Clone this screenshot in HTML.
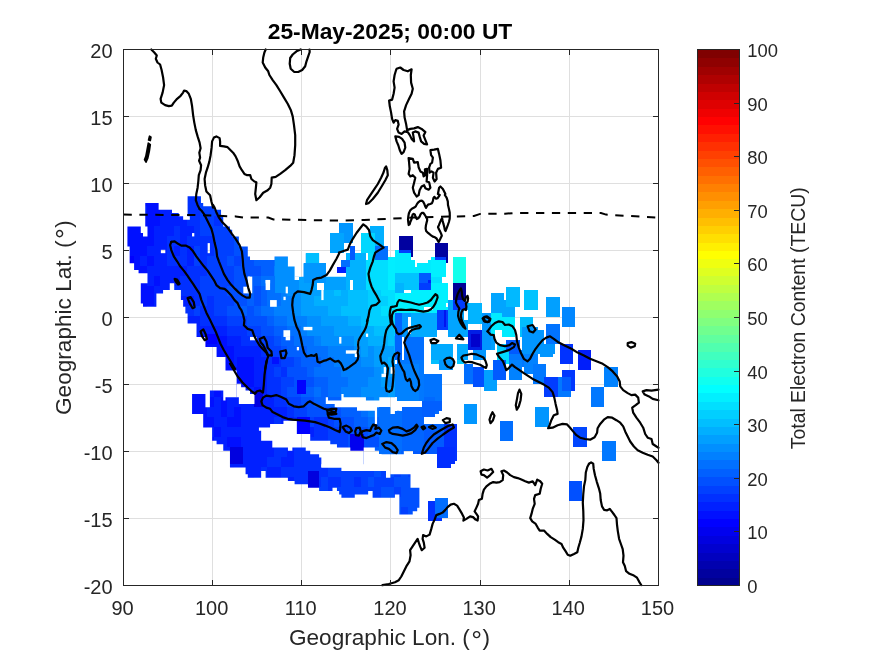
<!DOCTYPE html>
<html><head><meta charset="utf-8"><title>TEC map</title>
<style>
html,body{margin:0;padding:0;background:#fff;}
body{width:875px;height:656px;overflow:hidden;}
svg{display:block;font-family:"Liberation Sans",sans-serif;will-change:transform;opacity:0.999;}
.tk{font-size:20px;fill:#262626;}
.ck{font-size:18.4px;fill:#262626;}
.al{font-size:22.6px;fill:#262626;}
.tt{font-size:22.8px;font-weight:bold;fill:#000;}
.cl{font-size:19.4px;fill:#262626;}
</style></head><body>
<svg width="875" height="656" viewBox="0 0 875 656">
<rect x="0" y="0" width="875" height="656" fill="#fff"/>

<g stroke="#dfdfdf" stroke-width="1" shape-rendering="crispEdges">
<line x1="212.5" y1="49.5" x2="212.5" y2="585.5"/>
<line x1="301.5" y1="49.5" x2="301.5" y2="585.5"/>
<line x1="390.5" y1="49.5" x2="390.5" y2="585.5"/>
<line x1="480.5" y1="49.5" x2="480.5" y2="585.5"/>
<line x1="569.5" y1="49.5" x2="569.5" y2="585.5"/>
<line x1="123.5" y1="518.5" x2="658.5" y2="518.5"/>
<line x1="123.5" y1="451.5" x2="658.5" y2="451.5"/>
<line x1="123.5" y1="384.5" x2="658.5" y2="384.5"/>
<line x1="123.5" y1="317.5" x2="658.5" y2="317.5"/>
<line x1="123.5" y1="250.5" x2="658.5" y2="250.5"/>
<line x1="123.5" y1="183.5" x2="658.5" y2="183.5"/>
<line x1="123.5" y1="116.5" x2="658.5" y2="116.5"/>
</g>
<defs><mask id="m" maskUnits="userSpaceOnUse" x="0" y="0" width="875" height="656">
<rect x="0" y="0" width="875" height="656" fill="#000"/>
<path fill="#fff" fill-rule="nonzero" d="M127.42 226.38 L140.79 226.38 L140.79 233.08 L143.02 233.08 L143.02 236.43 L147.48 236.43 L147.48 226.38 L145.25 226.38 L145.25 202.93 L158.62 202.93 L158.62 209.63 L172.00 209.63 L172.00 212.98 L178.69 212.98 L178.69 216.33 L183.14 216.33 L183.14 219.68 L189.83 219.68 L189.83 216.33 L187.60 216.33 L187.60 196.23 L200.97 196.23 L200.97 202.93 L203.20 202.93 L203.20 206.28 L214.35 206.28 L214.35 209.63 L221.04 209.63 L221.04 216.33 L223.26 216.33 L223.26 226.38 L229.95 226.38 L229.95 229.73 L232.18 229.73 L232.18 236.43 L238.87 236.43 L238.87 246.48 L247.78 246.48 L247.78 283.33 L147.48 283.33 L147.48 273.28 L138.56 273.28 L138.56 269.93 L134.10 269.93 L134.10 263.23 L129.65 263.23 L129.65 246.48 L127.42 246.48Z M147.48 273.28 L247.78 273.28 L247.78 370.43 L225.49 370.43 L225.49 357.03 L216.58 357.03 L216.58 346.98 L205.43 346.98 L205.43 336.93 L196.52 336.93 L196.52 323.53 L187.60 323.53 L187.60 313.48 L185.37 313.48 L185.37 306.78 L183.14 306.78 L183.14 300.08 L180.91 300.08 L180.91 290.03 L174.23 290.03 L174.23 283.33 L169.77 283.33 L169.77 290.03 L163.08 290.03 L163.08 293.38 L156.39 293.38 L156.39 306.78 L143.02 306.78 L143.02 303.43 L140.79 303.43 L140.79 283.33 L147.48 283.33Z M232.18 236.43 L238.87 236.43 L238.87 246.48 L247.78 246.48 L247.78 256.53 L250.01 256.53 L250.01 259.88 L274.53 259.88 L274.53 256.53 L287.91 256.53 L287.91 266.58 L294.59 266.58 L294.59 279.98 L301.28 279.98 L301.28 276.63 L303.51 276.63 L303.51 263.23 L305.74 263.23 L305.74 253.18 L319.11 253.18 L319.11 263.23 L325.80 263.23 L325.80 276.63 L332.49 276.63 L332.49 300.08 L232.18 300.08Z M236.64 276.63 L363.69 276.63 L363.69 370.43 L236.64 370.43Z M299.05 283.33 L399.36 283.33 L399.36 360.38 L299.05 360.38Z M225.49 367.08 L247.78 367.08 L247.78 390.53 L245.56 390.53 L245.56 387.18 L241.10 387.18 L241.10 383.83 L236.64 383.83 L236.64 370.43 L225.49 370.43Z M192.06 393.88 L205.43 393.88 L205.43 407.28 L209.89 407.28 L209.89 390.53 L223.26 390.53 L223.26 400.58 L225.49 400.58 L225.49 397.23 L238.87 397.23 L238.87 403.93 L247.78 403.93 L247.78 467.58 L229.95 467.58 L229.95 450.83 L223.26 450.83 L223.26 444.13 L216.58 444.13 L216.58 440.78 L212.12 440.78 L212.12 427.38 L203.20 427.38 L203.20 413.98 L192.06 413.98Z M236.64 370.43 L363.69 370.43 L363.69 464.23 L236.64 464.23Z M299.05 360.38 L399.36 360.38 L399.36 434.08 L299.05 434.08Z M212.12 437.43 L287.91 437.43 L287.91 477.63 L265.62 477.63 L265.62 470.93 L261.16 470.93 L261.16 477.63 L247.78 477.63 L247.78 474.28 L245.56 474.28 L245.56 467.58 L236.64 467.58 L236.64 464.23 L229.95 464.23 L229.95 450.83 L223.26 450.83 L223.26 444.13 L216.58 444.13 L216.58 440.78 L212.12 440.78Z M276.76 447.48 L287.91 447.48 L287.91 450.83 L292.36 450.83 L292.36 447.48 L305.74 447.48 L305.74 450.83 L310.20 450.83 L310.20 454.18 L319.11 454.18 L319.11 457.53 L321.34 457.53 L321.34 467.58 L341.40 467.58 L341.40 470.93 L385.98 470.93 L385.98 477.63 L390.44 477.63 L390.44 474.28 L403.81 474.28 L403.81 514.48 L399.36 514.48 L399.36 494.38 L394.90 494.38 L394.90 497.73 L372.61 497.73 L372.61 491.03 L368.15 491.03 L368.15 494.38 L354.78 494.38 L354.78 497.73 L341.40 497.73 L341.40 494.38 L339.17 494.38 L339.17 491.03 L336.94 491.03 L336.94 487.68 L332.49 487.68 L332.49 491.03 L319.11 491.03 L319.11 487.68 L307.97 487.68 L307.97 484.33 L294.59 484.33 L294.59 480.98 L287.91 480.98 L287.91 477.63 L276.76 477.63Z M350.32 434.08 L403.81 434.08 L403.81 454.18 L381.52 454.18 L381.52 450.83 L374.84 450.83 L374.84 447.48 L363.69 447.48 L363.69 450.83 L350.32 450.83Z M390.44 474.28 L410.50 474.28 L410.50 487.68 L419.42 487.68 L419.42 507.78 L417.19 507.78 L417.19 511.13 L412.73 511.13 L412.73 514.48 L399.36 514.48 L399.36 494.38 L394.90 494.38 L394.90 497.73 L390.44 497.73Z"/>
<path fill="#000" d="M236.64 383.83 L241.10 383.83 L241.10 387.18 L245.56 387.18 L245.56 390.53 L250.01 390.53 L250.01 393.88 L254.47 393.88 L254.47 403.93 L238.87 403.93 L238.87 397.23 L236.64 397.23Z"/>
<path fill="#000" d="M258.93 427.38 L270.07 427.38 L270.07 424.03 L283.45 424.03 L283.45 420.68 L296.82 420.68 L296.82 434.08 L310.20 434.08 L310.20 440.78 L330.26 440.78 L330.26 444.13 L336.94 444.13 L336.94 447.48 L350.32 447.48 L350.32 450.83 L363.69 450.83 L363.69 467.58 L321.34 467.58 L321.34 457.53 L319.11 457.53 L319.11 454.18 L310.20 454.18 L310.20 450.83 L305.74 450.83 L305.74 447.48 L292.36 447.48 L292.36 450.83 L287.91 450.83 L287.91 447.48 L272.30 447.48 L272.30 440.78 L261.16 440.78 L261.16 430.73 L258.93 430.73Z"/>
<path fill="#000" d="M325.80 397.23 L328.03 397.23 L328.03 400.58 L341.40 400.58 L341.40 393.88 L343.63 393.88 L343.63 397.23 L365.92 397.23 L365.92 400.58 L379.30 400.58 L379.30 397.23 L397.13 397.23 L397.13 400.58 L401.58 400.58 L401.58 410.63 L394.90 410.63 L394.90 413.98 L390.44 413.98 L390.44 407.28 L377.07 407.28 L377.07 424.03 L374.84 424.03 L374.84 410.63 L357.00 410.63 L357.00 407.28 L334.71 407.28 L334.71 403.93 L325.80 403.93Z"/>
<rect fill="#000" x="192.06" y="233.08" width="2.23" height="3.35"/>
<rect fill="#000" x="160.85" y="249.83" width="4.46" height="3.35"/>
<rect fill="#000" x="207.66" y="243.13" width="2.23" height="10.05"/>
<rect fill="#000" x="247.78" y="276.63" width="2.23" height="3.35"/>
<rect fill="#000" x="265.62" y="279.98" width="4.46" height="3.35"/>
<rect fill="#000" x="243.33" y="286.68" width="4.46" height="6.70"/>
<rect fill="#000" x="247.78" y="276.63" width="4.46" height="16.75"/>
<rect fill="#000" x="265.62" y="279.98" width="4.46" height="10.05"/>
<rect fill="#000" x="294.59" y="276.63" width="6.69" height="3.35"/>
<rect fill="#000" x="285.68" y="286.68" width="2.23" height="6.70"/>
<rect fill="#000" x="283.45" y="296.73" width="2.23" height="3.35"/>
<rect fill="#000" x="270.07" y="300.08" width="6.69" height="6.70"/>
<rect fill="#000" x="316.88" y="283.33" width="6.69" height="6.70"/>
<rect fill="#000" x="321.34" y="290.03" width="2.23" height="10.05"/>
<rect fill="#000" x="350.32" y="279.98" width="2.23" height="6.70"/>
<rect fill="#000" x="325.80" y="276.63" width="11.15" height="0.00"/>
<rect fill="#000" x="303.51" y="326.88" width="8.92" height="3.35"/>
<rect fill="#000" x="283.45" y="330.23" width="6.69" height="6.70"/>
<rect fill="#000" x="285.68" y="336.93" width="4.46" height="3.35"/>
<rect fill="#000" x="339.17" y="336.93" width="2.23" height="6.70"/>
<rect fill="#000" x="296.82" y="346.98" width="2.23" height="3.35"/>
<rect fill="#000" x="345.86" y="350.33" width="11.14" height="3.35"/>
<rect fill="#000" x="354.78" y="353.68" width="2.23" height="3.35"/>
<rect fill="#000" x="250.01" y="336.93" width="6.69" height="3.35"/>
<rect fill="#000" x="357.00" y="340.28" width="2.23" height="10.05"/>
<rect fill="#000" x="365.92" y="333.58" width="2.23" height="3.35"/>
<rect fill="#000" x="397.13" y="353.68" width="2.23" height="6.70"/>
<rect fill="#000" x="381.52" y="373.78" width="4.46" height="3.35"/>
<rect fill="#000" x="383.75" y="367.08" width="2.23" height="6.70"/>
<rect fill="#000" x="390.44" y="367.08" width="4.46" height="6.70"/>
<rect fill="#000" x="394.90" y="360.38" width="4.46" height="13.40"/>
</mask></defs>
<g mask="url(#m)" shape-rendering="crispEdges">
<rect x="126.92" y="195.73" width="34.44" height="11.05" fill="rgb(0,16,255)"/>
<rect x="160.35" y="195.73" width="14.37" height="11.05" fill="rgb(0,32,255)"/>
<rect x="173.73" y="195.73" width="27.75" height="11.05" fill="rgb(0,48,255)"/>
<rect x="200.47" y="195.73" width="7.69" height="11.05" fill="rgb(0,64,255)"/>
<rect x="207.16" y="195.73" width="14.37" height="11.05" fill="rgb(0,48,255)"/>
<rect x="220.54" y="195.73" width="14.37" height="11.05" fill="rgb(0,64,255)"/>
<rect x="233.91" y="195.73" width="14.37" height="11.05" fill="rgb(0,80,255)"/>
<rect x="247.28" y="195.73" width="7.69" height="11.05" fill="rgb(0,96,255)"/>
<rect x="253.97" y="195.73" width="7.69" height="11.05" fill="rgb(0,80,255)"/>
<rect x="260.66" y="195.73" width="7.69" height="11.05" fill="rgb(0,96,255)"/>
<rect x="267.35" y="195.73" width="21.06" height="11.05" fill="rgb(0,112,255)"/>
<rect x="287.41" y="195.73" width="21.06" height="11.05" fill="rgb(0,143,255)"/>
<rect x="307.47" y="195.73" width="14.37" height="11.05" fill="rgb(0,159,255)"/>
<rect x="320.84" y="195.73" width="27.75" height="11.05" fill="rgb(0,175,255)"/>
<rect x="347.59" y="195.73" width="21.06" height="11.05" fill="rgb(0,191,255)"/>
<rect x="367.65" y="195.73" width="21.06" height="11.05" fill="rgb(0,207,255)"/>
<rect x="387.71" y="195.73" width="34.44" height="11.05" fill="rgb(0,223,255)"/>
<rect x="126.92" y="205.78" width="14.37" height="11.05" fill="rgb(0,16,255)"/>
<rect x="140.29" y="205.78" width="7.69" height="11.05" fill="rgb(0,32,255)"/>
<rect x="146.98" y="205.78" width="14.37" height="11.05" fill="rgb(0,16,255)"/>
<rect x="160.35" y="205.78" width="14.37" height="11.05" fill="rgb(0,32,255)"/>
<rect x="173.73" y="205.78" width="7.69" height="11.05" fill="rgb(0,48,255)"/>
<rect x="180.41" y="205.78" width="7.69" height="11.05" fill="rgb(0,32,255)"/>
<rect x="187.10" y="205.78" width="14.37" height="11.05" fill="rgb(0,48,255)"/>
<rect x="200.47" y="205.78" width="27.75" height="11.05" fill="rgb(0,64,255)"/>
<rect x="227.22" y="205.78" width="7.69" height="11.05" fill="rgb(0,80,255)"/>
<rect x="233.91" y="205.78" width="7.69" height="11.05" fill="rgb(0,64,255)"/>
<rect x="240.60" y="205.78" width="14.37" height="11.05" fill="rgb(0,80,255)"/>
<rect x="253.97" y="205.78" width="7.69" height="11.05" fill="rgb(0,96,255)"/>
<rect x="260.66" y="205.78" width="14.37" height="11.05" fill="rgb(0,112,255)"/>
<rect x="274.03" y="205.78" width="21.06" height="11.05" fill="rgb(0,128,255)"/>
<rect x="294.09" y="205.78" width="7.69" height="11.05" fill="rgb(0,143,255)"/>
<rect x="300.78" y="205.78" width="21.06" height="11.05" fill="rgb(0,159,255)"/>
<rect x="320.84" y="205.78" width="14.37" height="11.05" fill="rgb(0,175,255)"/>
<rect x="334.21" y="205.78" width="27.75" height="11.05" fill="rgb(0,191,255)"/>
<rect x="360.96" y="205.78" width="7.69" height="11.05" fill="rgb(0,207,255)"/>
<rect x="367.65" y="205.78" width="7.69" height="11.05" fill="rgb(0,191,255)"/>
<rect x="374.34" y="205.78" width="14.37" height="11.05" fill="rgb(0,207,255)"/>
<rect x="387.71" y="205.78" width="34.44" height="11.05" fill="rgb(0,223,255)"/>
<rect x="126.92" y="215.83" width="34.44" height="11.05" fill="rgb(0,16,255)"/>
<rect x="160.35" y="215.83" width="27.75" height="11.05" fill="rgb(0,32,255)"/>
<rect x="187.10" y="215.83" width="14.37" height="11.05" fill="rgb(0,48,255)"/>
<rect x="200.47" y="215.83" width="14.37" height="11.05" fill="rgb(0,64,255)"/>
<rect x="213.85" y="215.83" width="7.69" height="11.05" fill="rgb(0,48,255)"/>
<rect x="220.54" y="215.83" width="14.37" height="11.05" fill="rgb(0,64,255)"/>
<rect x="233.91" y="215.83" width="21.06" height="11.05" fill="rgb(0,80,255)"/>
<rect x="253.97" y="215.83" width="14.37" height="11.05" fill="rgb(0,96,255)"/>
<rect x="267.35" y="215.83" width="14.37" height="11.05" fill="rgb(0,112,255)"/>
<rect x="280.72" y="215.83" width="14.37" height="11.05" fill="rgb(0,128,255)"/>
<rect x="294.09" y="215.83" width="14.37" height="11.05" fill="rgb(0,143,255)"/>
<rect x="307.47" y="215.83" width="21.06" height="11.05" fill="rgb(0,159,255)"/>
<rect x="327.53" y="215.83" width="14.37" height="11.05" fill="rgb(0,175,255)"/>
<rect x="340.90" y="215.83" width="21.06" height="11.05" fill="rgb(0,191,255)"/>
<rect x="360.96" y="215.83" width="7.69" height="11.05" fill="rgb(0,207,255)"/>
<rect x="367.65" y="215.83" width="7.69" height="11.05" fill="rgb(0,191,255)"/>
<rect x="374.34" y="215.83" width="7.69" height="11.05" fill="rgb(0,207,255)"/>
<rect x="381.02" y="215.83" width="27.75" height="11.05" fill="rgb(0,223,255)"/>
<rect x="407.77" y="215.83" width="7.69" height="11.05" fill="rgb(0,239,255)"/>
<rect x="414.46" y="215.83" width="7.69" height="11.05" fill="rgb(0,223,255)"/>
<rect x="126.92" y="225.88" width="27.75" height="11.05" fill="rgb(0,16,255)"/>
<rect x="153.67" y="225.88" width="21.06" height="11.05" fill="rgb(0,32,255)"/>
<rect x="173.73" y="225.88" width="7.69" height="11.05" fill="rgb(0,48,255)"/>
<rect x="180.41" y="225.88" width="14.37" height="11.05" fill="rgb(0,32,255)"/>
<rect x="193.79" y="225.88" width="7.69" height="11.05" fill="rgb(0,48,255)"/>
<rect x="200.47" y="225.88" width="34.44" height="11.05" fill="rgb(0,64,255)"/>
<rect x="233.91" y="225.88" width="14.37" height="11.05" fill="rgb(0,80,255)"/>
<rect x="247.28" y="225.88" width="27.75" height="11.05" fill="rgb(0,96,255)"/>
<rect x="274.03" y="225.88" width="27.75" height="11.05" fill="rgb(0,128,255)"/>
<rect x="300.78" y="225.88" width="7.69" height="11.05" fill="rgb(0,143,255)"/>
<rect x="307.47" y="225.88" width="14.37" height="11.05" fill="rgb(0,159,255)"/>
<rect x="320.84" y="225.88" width="21.06" height="11.05" fill="rgb(0,175,255)"/>
<rect x="340.90" y="225.88" width="7.69" height="11.05" fill="rgb(0,191,255)"/>
<rect x="347.59" y="225.88" width="7.69" height="11.05" fill="rgb(0,175,255)"/>
<rect x="354.28" y="225.88" width="14.37" height="11.05" fill="rgb(0,191,255)"/>
<rect x="367.65" y="225.88" width="7.69" height="11.05" fill="rgb(0,207,255)"/>
<rect x="374.34" y="225.88" width="7.69" height="11.05" fill="rgb(0,223,255)"/>
<rect x="381.02" y="225.88" width="14.37" height="11.05" fill="rgb(0,207,255)"/>
<rect x="394.40" y="225.88" width="27.75" height="11.05" fill="rgb(0,223,255)"/>
<rect x="126.92" y="235.93" width="27.75" height="11.05" fill="rgb(0,16,255)"/>
<rect x="153.67" y="235.93" width="14.37" height="11.05" fill="rgb(0,32,255)"/>
<rect x="167.04" y="235.93" width="14.37" height="11.05" fill="rgb(0,48,255)"/>
<rect x="180.41" y="235.93" width="7.69" height="11.05" fill="rgb(0,32,255)"/>
<rect x="187.10" y="235.93" width="27.75" height="11.05" fill="rgb(0,48,255)"/>
<rect x="213.85" y="235.93" width="21.06" height="11.05" fill="rgb(0,64,255)"/>
<rect x="233.91" y="235.93" width="21.06" height="11.05" fill="rgb(0,80,255)"/>
<rect x="253.97" y="235.93" width="14.37" height="11.05" fill="rgb(0,96,255)"/>
<rect x="267.35" y="235.93" width="14.37" height="11.05" fill="rgb(0,112,255)"/>
<rect x="280.72" y="235.93" width="7.69" height="11.05" fill="rgb(0,128,255)"/>
<rect x="287.41" y="235.93" width="7.69" height="11.05" fill="rgb(0,143,255)"/>
<rect x="294.09" y="235.93" width="7.69" height="11.05" fill="rgb(0,128,255)"/>
<rect x="300.78" y="235.93" width="7.69" height="11.05" fill="rgb(0,143,255)"/>
<rect x="307.47" y="235.93" width="21.06" height="11.05" fill="rgb(0,159,255)"/>
<rect x="327.53" y="235.93" width="14.37" height="11.05" fill="rgb(0,175,255)"/>
<rect x="340.90" y="235.93" width="27.75" height="11.05" fill="rgb(0,191,255)"/>
<rect x="367.65" y="235.93" width="14.37" height="11.05" fill="rgb(0,207,255)"/>
<rect x="381.02" y="235.93" width="27.75" height="11.05" fill="rgb(0,223,255)"/>
<rect x="407.77" y="235.93" width="7.69" height="11.05" fill="rgb(0,239,255)"/>
<rect x="414.46" y="235.93" width="7.69" height="11.05" fill="rgb(0,223,255)"/>
<rect x="126.92" y="245.98" width="21.06" height="11.05" fill="rgb(0,16,255)"/>
<rect x="146.98" y="245.98" width="21.06" height="11.05" fill="rgb(0,32,255)"/>
<rect x="167.04" y="245.98" width="7.69" height="11.05" fill="rgb(0,48,255)"/>
<rect x="173.73" y="245.98" width="7.69" height="11.05" fill="rgb(0,32,255)"/>
<rect x="180.41" y="245.98" width="7.69" height="11.05" fill="rgb(0,48,255)"/>
<rect x="187.10" y="245.98" width="7.69" height="11.05" fill="rgb(0,32,255)"/>
<rect x="193.79" y="245.98" width="7.69" height="11.05" fill="rgb(0,64,255)"/>
<rect x="200.47" y="245.98" width="14.37" height="11.05" fill="rgb(0,48,255)"/>
<rect x="213.85" y="245.98" width="21.06" height="11.05" fill="rgb(0,64,255)"/>
<rect x="233.91" y="245.98" width="21.06" height="11.05" fill="rgb(0,80,255)"/>
<rect x="253.97" y="245.98" width="21.06" height="11.05" fill="rgb(0,96,255)"/>
<rect x="274.03" y="245.98" width="7.69" height="11.05" fill="rgb(0,112,255)"/>
<rect x="280.72" y="245.98" width="14.37" height="11.05" fill="rgb(0,128,255)"/>
<rect x="294.09" y="245.98" width="14.37" height="11.05" fill="rgb(0,143,255)"/>
<rect x="307.47" y="245.98" width="21.06" height="11.05" fill="rgb(0,159,255)"/>
<rect x="327.53" y="245.98" width="14.37" height="11.05" fill="rgb(0,175,255)"/>
<rect x="340.90" y="245.98" width="7.69" height="11.05" fill="rgb(0,191,255)"/>
<rect x="347.59" y="245.98" width="7.69" height="11.05" fill="rgb(0,175,255)"/>
<rect x="354.28" y="245.98" width="14.37" height="11.05" fill="rgb(0,191,255)"/>
<rect x="367.65" y="245.98" width="21.06" height="11.05" fill="rgb(0,207,255)"/>
<rect x="387.71" y="245.98" width="34.44" height="11.05" fill="rgb(0,223,255)"/>
<rect x="126.92" y="256.03" width="7.69" height="11.05" fill="rgb(0,0,255)"/>
<rect x="133.60" y="256.03" width="7.69" height="11.05" fill="rgb(0,16,255)"/>
<rect x="140.29" y="256.03" width="7.69" height="11.05" fill="rgb(0,32,255)"/>
<rect x="146.98" y="256.03" width="7.69" height="11.05" fill="rgb(0,16,255)"/>
<rect x="153.67" y="256.03" width="14.37" height="11.05" fill="rgb(0,32,255)"/>
<rect x="167.04" y="256.03" width="21.06" height="11.05" fill="rgb(0,48,255)"/>
<rect x="187.10" y="256.03" width="7.69" height="11.05" fill="rgb(0,32,255)"/>
<rect x="193.79" y="256.03" width="7.69" height="11.05" fill="rgb(0,64,255)"/>
<rect x="200.47" y="256.03" width="7.69" height="11.05" fill="rgb(0,48,255)"/>
<rect x="207.16" y="256.03" width="21.06" height="11.05" fill="rgb(0,64,255)"/>
<rect x="227.22" y="256.03" width="7.69" height="11.05" fill="rgb(0,80,255)"/>
<rect x="233.91" y="256.03" width="7.69" height="11.05" fill="rgb(0,64,255)"/>
<rect x="240.60" y="256.03" width="14.37" height="11.05" fill="rgb(0,80,255)"/>
<rect x="253.97" y="256.03" width="21.06" height="11.05" fill="rgb(0,96,255)"/>
<rect x="274.03" y="256.03" width="14.37" height="11.05" fill="rgb(0,112,255)"/>
<rect x="287.41" y="256.03" width="7.69" height="11.05" fill="rgb(0,128,255)"/>
<rect x="294.09" y="256.03" width="14.37" height="11.05" fill="rgb(0,143,255)"/>
<rect x="307.47" y="256.03" width="14.37" height="11.05" fill="rgb(0,159,255)"/>
<rect x="320.84" y="256.03" width="27.75" height="11.05" fill="rgb(0,175,255)"/>
<rect x="347.59" y="256.03" width="21.06" height="11.05" fill="rgb(0,191,255)"/>
<rect x="367.65" y="256.03" width="14.37" height="11.05" fill="rgb(0,207,255)"/>
<rect x="381.02" y="256.03" width="41.12" height="11.05" fill="rgb(0,223,255)"/>
<rect x="126.92" y="266.08" width="21.06" height="11.05" fill="rgb(0,16,255)"/>
<rect x="146.98" y="266.08" width="41.12" height="11.05" fill="rgb(0,32,255)"/>
<rect x="187.10" y="266.08" width="21.06" height="11.05" fill="rgb(0,48,255)"/>
<rect x="207.16" y="266.08" width="27.75" height="11.05" fill="rgb(0,64,255)"/>
<rect x="233.91" y="266.08" width="27.75" height="11.05" fill="rgb(0,80,255)"/>
<rect x="260.66" y="266.08" width="14.37" height="11.05" fill="rgb(0,96,255)"/>
<rect x="274.03" y="266.08" width="14.37" height="11.05" fill="rgb(0,128,255)"/>
<rect x="287.41" y="266.08" width="21.06" height="11.05" fill="rgb(0,143,255)"/>
<rect x="307.47" y="266.08" width="14.37" height="11.05" fill="rgb(0,159,255)"/>
<rect x="320.84" y="266.08" width="21.06" height="11.05" fill="rgb(0,175,255)"/>
<rect x="340.90" y="266.08" width="27.75" height="11.05" fill="rgb(0,191,255)"/>
<rect x="367.65" y="266.08" width="21.06" height="11.05" fill="rgb(0,207,255)"/>
<rect x="387.71" y="266.08" width="27.75" height="11.05" fill="rgb(0,223,255)"/>
<rect x="414.46" y="266.08" width="7.69" height="11.05" fill="rgb(0,239,255)"/>
<rect x="126.92" y="276.13" width="7.69" height="11.05" fill="rgb(0,0,255)"/>
<rect x="133.60" y="276.13" width="14.37" height="11.05" fill="rgb(0,16,255)"/>
<rect x="146.98" y="276.13" width="7.69" height="11.05" fill="rgb(0,32,255)"/>
<rect x="153.67" y="276.13" width="7.69" height="11.05" fill="rgb(0,16,255)"/>
<rect x="160.35" y="276.13" width="21.06" height="11.05" fill="rgb(0,32,255)"/>
<rect x="180.41" y="276.13" width="21.06" height="11.05" fill="rgb(0,48,255)"/>
<rect x="200.47" y="276.13" width="34.44" height="11.05" fill="rgb(0,64,255)"/>
<rect x="233.91" y="276.13" width="14.37" height="11.05" fill="rgb(0,80,255)"/>
<rect x="247.28" y="276.13" width="14.37" height="11.05" fill="rgb(0,96,255)"/>
<rect x="260.66" y="276.13" width="21.06" height="11.05" fill="rgb(0,112,255)"/>
<rect x="280.72" y="276.13" width="7.69" height="11.05" fill="rgb(0,128,255)"/>
<rect x="287.41" y="276.13" width="21.06" height="11.05" fill="rgb(0,143,255)"/>
<rect x="307.47" y="276.13" width="7.69" height="11.05" fill="rgb(0,159,255)"/>
<rect x="314.15" y="276.13" width="14.37" height="11.05" fill="rgb(0,175,255)"/>
<rect x="327.53" y="276.13" width="7.69" height="11.05" fill="rgb(0,159,255)"/>
<rect x="334.21" y="276.13" width="7.69" height="11.05" fill="rgb(0,175,255)"/>
<rect x="340.90" y="276.13" width="21.06" height="11.05" fill="rgb(0,191,255)"/>
<rect x="360.96" y="276.13" width="14.37" height="11.05" fill="rgb(0,207,255)"/>
<rect x="374.34" y="276.13" width="7.69" height="11.05" fill="rgb(0,223,255)"/>
<rect x="381.02" y="276.13" width="7.69" height="11.05" fill="rgb(0,207,255)"/>
<rect x="387.71" y="276.13" width="34.44" height="11.05" fill="rgb(0,223,255)"/>
<rect x="126.92" y="286.18" width="14.37" height="11.05" fill="rgb(0,0,255)"/>
<rect x="140.29" y="286.18" width="14.37" height="11.05" fill="rgb(0,16,255)"/>
<rect x="153.67" y="286.18" width="21.06" height="11.05" fill="rgb(0,32,255)"/>
<rect x="173.73" y="286.18" width="27.75" height="11.05" fill="rgb(0,48,255)"/>
<rect x="200.47" y="286.18" width="27.75" height="11.05" fill="rgb(0,64,255)"/>
<rect x="227.22" y="286.18" width="21.06" height="11.05" fill="rgb(0,80,255)"/>
<rect x="247.28" y="286.18" width="7.69" height="11.05" fill="rgb(0,96,255)"/>
<rect x="253.97" y="286.18" width="7.69" height="11.05" fill="rgb(0,80,255)"/>
<rect x="260.66" y="286.18" width="7.69" height="11.05" fill="rgb(0,96,255)"/>
<rect x="267.35" y="286.18" width="14.37" height="11.05" fill="rgb(0,112,255)"/>
<rect x="280.72" y="286.18" width="7.69" height="11.05" fill="rgb(0,128,255)"/>
<rect x="287.41" y="286.18" width="14.37" height="11.05" fill="rgb(0,143,255)"/>
<rect x="300.78" y="286.18" width="21.06" height="11.05" fill="rgb(0,159,255)"/>
<rect x="320.84" y="286.18" width="14.37" height="11.05" fill="rgb(0,175,255)"/>
<rect x="334.21" y="286.18" width="7.69" height="11.05" fill="rgb(0,191,255)"/>
<rect x="340.90" y="286.18" width="7.69" height="11.05" fill="rgb(0,175,255)"/>
<rect x="347.59" y="286.18" width="21.06" height="11.05" fill="rgb(0,191,255)"/>
<rect x="367.65" y="286.18" width="14.37" height="11.05" fill="rgb(0,207,255)"/>
<rect x="381.02" y="286.18" width="41.12" height="11.05" fill="rgb(0,223,255)"/>
<rect x="126.92" y="296.23" width="14.37" height="11.05" fill="rgb(0,0,255)"/>
<rect x="140.29" y="296.23" width="14.37" height="11.05" fill="rgb(0,16,255)"/>
<rect x="153.67" y="296.23" width="41.12" height="11.05" fill="rgb(0,32,255)"/>
<rect x="193.79" y="296.23" width="7.69" height="11.05" fill="rgb(0,48,255)"/>
<rect x="200.47" y="296.23" width="7.69" height="11.05" fill="rgb(0,64,255)"/>
<rect x="207.16" y="296.23" width="7.69" height="11.05" fill="rgb(0,48,255)"/>
<rect x="213.85" y="296.23" width="21.06" height="11.05" fill="rgb(0,64,255)"/>
<rect x="233.91" y="296.23" width="14.37" height="11.05" fill="rgb(0,80,255)"/>
<rect x="247.28" y="296.23" width="7.69" height="11.05" fill="rgb(0,96,255)"/>
<rect x="253.97" y="296.23" width="7.69" height="11.05" fill="rgb(0,80,255)"/>
<rect x="260.66" y="296.23" width="7.69" height="11.05" fill="rgb(0,96,255)"/>
<rect x="267.35" y="296.23" width="14.37" height="11.05" fill="rgb(0,112,255)"/>
<rect x="280.72" y="296.23" width="14.37" height="11.05" fill="rgb(0,128,255)"/>
<rect x="294.09" y="296.23" width="7.69" height="11.05" fill="rgb(0,143,255)"/>
<rect x="300.78" y="296.23" width="14.37" height="11.05" fill="rgb(0,159,255)"/>
<rect x="314.15" y="296.23" width="34.44" height="11.05" fill="rgb(0,175,255)"/>
<rect x="347.59" y="296.23" width="21.06" height="11.05" fill="rgb(0,191,255)"/>
<rect x="367.65" y="296.23" width="21.06" height="11.05" fill="rgb(0,207,255)"/>
<rect x="387.71" y="296.23" width="14.37" height="11.05" fill="rgb(0,223,255)"/>
<rect x="401.08" y="296.23" width="21.06" height="11.05" fill="rgb(0,239,255)"/>
<rect x="126.92" y="306.28" width="14.37" height="11.05" fill="rgb(0,0,255)"/>
<rect x="140.29" y="306.28" width="7.69" height="11.05" fill="rgb(0,16,255)"/>
<rect x="146.98" y="306.28" width="7.69" height="11.05" fill="rgb(0,32,255)"/>
<rect x="153.67" y="306.28" width="14.37" height="11.05" fill="rgb(0,16,255)"/>
<rect x="167.04" y="306.28" width="7.69" height="11.05" fill="rgb(0,48,255)"/>
<rect x="173.73" y="306.28" width="7.69" height="11.05" fill="rgb(0,32,255)"/>
<rect x="180.41" y="306.28" width="14.37" height="11.05" fill="rgb(0,48,255)"/>
<rect x="193.79" y="306.28" width="7.69" height="11.05" fill="rgb(0,64,255)"/>
<rect x="200.47" y="306.28" width="14.37" height="11.05" fill="rgb(0,48,255)"/>
<rect x="213.85" y="306.28" width="14.37" height="11.05" fill="rgb(0,64,255)"/>
<rect x="227.22" y="306.28" width="14.37" height="11.05" fill="rgb(0,80,255)"/>
<rect x="240.60" y="306.28" width="7.69" height="11.05" fill="rgb(0,96,255)"/>
<rect x="247.28" y="306.28" width="7.69" height="11.05" fill="rgb(0,80,255)"/>
<rect x="253.97" y="306.28" width="7.69" height="11.05" fill="rgb(0,96,255)"/>
<rect x="260.66" y="306.28" width="14.37" height="11.05" fill="rgb(0,112,255)"/>
<rect x="274.03" y="306.28" width="21.06" height="11.05" fill="rgb(0,128,255)"/>
<rect x="294.09" y="306.28" width="7.69" height="11.05" fill="rgb(0,143,255)"/>
<rect x="300.78" y="306.28" width="27.75" height="11.05" fill="rgb(0,159,255)"/>
<rect x="327.53" y="306.28" width="14.37" height="11.05" fill="rgb(0,175,255)"/>
<rect x="340.90" y="306.28" width="27.75" height="11.05" fill="rgb(0,191,255)"/>
<rect x="367.65" y="306.28" width="14.37" height="11.05" fill="rgb(0,207,255)"/>
<rect x="381.02" y="306.28" width="27.75" height="11.05" fill="rgb(0,223,255)"/>
<rect x="407.77" y="306.28" width="7.69" height="11.05" fill="rgb(0,239,255)"/>
<rect x="414.46" y="306.28" width="7.69" height="11.05" fill="rgb(0,223,255)"/>
<rect x="126.92" y="316.33" width="14.37" height="11.05" fill="rgb(0,0,239)"/>
<rect x="140.29" y="316.33" width="21.06" height="11.05" fill="rgb(0,0,255)"/>
<rect x="160.35" y="316.33" width="21.06" height="11.05" fill="rgb(0,16,255)"/>
<rect x="180.41" y="316.33" width="21.06" height="11.05" fill="rgb(0,32,255)"/>
<rect x="200.47" y="316.33" width="27.75" height="11.05" fill="rgb(0,48,255)"/>
<rect x="227.22" y="316.33" width="21.06" height="11.05" fill="rgb(0,64,255)"/>
<rect x="247.28" y="316.33" width="21.06" height="11.05" fill="rgb(0,80,255)"/>
<rect x="267.35" y="316.33" width="7.69" height="11.05" fill="rgb(0,96,255)"/>
<rect x="274.03" y="316.33" width="14.37" height="11.05" fill="rgb(0,112,255)"/>
<rect x="287.41" y="316.33" width="21.06" height="11.05" fill="rgb(0,128,255)"/>
<rect x="307.47" y="316.33" width="14.37" height="11.05" fill="rgb(0,143,255)"/>
<rect x="320.84" y="316.33" width="27.75" height="11.05" fill="rgb(0,159,255)"/>
<rect x="347.59" y="316.33" width="14.37" height="11.05" fill="rgb(0,175,255)"/>
<rect x="360.96" y="316.33" width="7.69" height="11.05" fill="rgb(0,191,255)"/>
<rect x="367.65" y="316.33" width="34.44" height="11.05" fill="rgb(0,207,255)"/>
<rect x="401.08" y="316.33" width="7.69" height="11.05" fill="rgb(0,223,255)"/>
<rect x="407.77" y="316.33" width="14.37" height="11.05" fill="rgb(0,207,255)"/>
<rect x="126.92" y="326.38" width="21.06" height="11.05" fill="rgb(0,0,239)"/>
<rect x="146.98" y="326.38" width="7.69" height="11.05" fill="rgb(0,0,255)"/>
<rect x="153.67" y="326.38" width="7.69" height="11.05" fill="rgb(0,0,239)"/>
<rect x="160.35" y="326.38" width="14.37" height="11.05" fill="rgb(0,0,255)"/>
<rect x="173.73" y="326.38" width="14.37" height="11.05" fill="rgb(0,16,255)"/>
<rect x="187.10" y="326.38" width="41.12" height="11.05" fill="rgb(0,32,255)"/>
<rect x="227.22" y="326.38" width="21.06" height="11.05" fill="rgb(0,48,255)"/>
<rect x="247.28" y="326.38" width="14.37" height="11.05" fill="rgb(0,64,255)"/>
<rect x="260.66" y="326.38" width="14.37" height="11.05" fill="rgb(0,80,255)"/>
<rect x="274.03" y="326.38" width="14.37" height="11.05" fill="rgb(0,96,255)"/>
<rect x="287.41" y="326.38" width="14.37" height="11.05" fill="rgb(0,112,255)"/>
<rect x="300.78" y="326.38" width="7.69" height="11.05" fill="rgb(0,128,255)"/>
<rect x="307.47" y="326.38" width="27.75" height="11.05" fill="rgb(0,143,255)"/>
<rect x="334.21" y="326.38" width="27.75" height="11.05" fill="rgb(0,159,255)"/>
<rect x="360.96" y="326.38" width="14.37" height="11.05" fill="rgb(0,175,255)"/>
<rect x="374.34" y="326.38" width="21.06" height="11.05" fill="rgb(0,191,255)"/>
<rect x="394.40" y="326.38" width="14.37" height="11.05" fill="rgb(0,207,255)"/>
<rect x="407.77" y="326.38" width="7.69" height="11.05" fill="rgb(0,191,255)"/>
<rect x="414.46" y="326.38" width="7.69" height="11.05" fill="rgb(0,207,255)"/>
<rect x="126.92" y="336.43" width="21.06" height="11.05" fill="rgb(0,0,239)"/>
<rect x="146.98" y="336.43" width="7.69" height="11.05" fill="rgb(0,0,255)"/>
<rect x="153.67" y="336.43" width="7.69" height="11.05" fill="rgb(0,0,239)"/>
<rect x="160.35" y="336.43" width="27.75" height="11.05" fill="rgb(0,0,255)"/>
<rect x="187.10" y="336.43" width="14.37" height="11.05" fill="rgb(0,16,255)"/>
<rect x="200.47" y="336.43" width="7.69" height="11.05" fill="rgb(0,0,255)"/>
<rect x="207.16" y="336.43" width="21.06" height="11.05" fill="rgb(0,16,255)"/>
<rect x="227.22" y="336.43" width="14.37" height="11.05" fill="rgb(0,32,255)"/>
<rect x="240.60" y="336.43" width="21.06" height="11.05" fill="rgb(0,48,255)"/>
<rect x="260.66" y="336.43" width="14.37" height="11.05" fill="rgb(0,64,255)"/>
<rect x="274.03" y="336.43" width="7.69" height="11.05" fill="rgb(0,80,255)"/>
<rect x="280.72" y="336.43" width="14.37" height="11.05" fill="rgb(0,96,255)"/>
<rect x="294.09" y="336.43" width="21.06" height="11.05" fill="rgb(0,112,255)"/>
<rect x="314.15" y="336.43" width="7.69" height="11.05" fill="rgb(0,128,255)"/>
<rect x="320.84" y="336.43" width="34.44" height="11.05" fill="rgb(0,143,255)"/>
<rect x="354.28" y="336.43" width="14.37" height="11.05" fill="rgb(0,159,255)"/>
<rect x="367.65" y="336.43" width="21.06" height="11.05" fill="rgb(0,175,255)"/>
<rect x="387.71" y="336.43" width="7.69" height="11.05" fill="rgb(0,191,255)"/>
<rect x="394.40" y="336.43" width="7.69" height="11.05" fill="rgb(0,175,255)"/>
<rect x="401.08" y="336.43" width="21.06" height="11.05" fill="rgb(0,191,255)"/>
<rect x="126.92" y="346.48" width="21.06" height="11.05" fill="rgb(0,0,239)"/>
<rect x="146.98" y="346.48" width="61.18" height="11.05" fill="rgb(0,0,255)"/>
<rect x="207.16" y="346.48" width="27.75" height="11.05" fill="rgb(0,16,255)"/>
<rect x="233.91" y="346.48" width="27.75" height="11.05" fill="rgb(0,32,255)"/>
<rect x="260.66" y="346.48" width="7.69" height="11.05" fill="rgb(0,48,255)"/>
<rect x="267.35" y="346.48" width="14.37" height="11.05" fill="rgb(0,64,255)"/>
<rect x="280.72" y="346.48" width="7.69" height="11.05" fill="rgb(0,80,255)"/>
<rect x="287.41" y="346.48" width="21.06" height="11.05" fill="rgb(0,96,255)"/>
<rect x="307.47" y="346.48" width="21.06" height="11.05" fill="rgb(0,112,255)"/>
<rect x="327.53" y="346.48" width="27.75" height="11.05" fill="rgb(0,128,255)"/>
<rect x="354.28" y="346.48" width="7.69" height="11.05" fill="rgb(0,143,255)"/>
<rect x="360.96" y="346.48" width="7.69" height="11.05" fill="rgb(0,159,255)"/>
<rect x="367.65" y="346.48" width="7.69" height="11.05" fill="rgb(0,143,255)"/>
<rect x="374.34" y="346.48" width="21.06" height="11.05" fill="rgb(0,159,255)"/>
<rect x="394.40" y="346.48" width="7.69" height="11.05" fill="rgb(0,175,255)"/>
<rect x="401.08" y="346.48" width="7.69" height="11.05" fill="rgb(0,159,255)"/>
<rect x="407.77" y="346.48" width="7.69" height="11.05" fill="rgb(0,175,255)"/>
<rect x="414.46" y="346.48" width="7.69" height="11.05" fill="rgb(0,191,255)"/>
<rect x="126.92" y="356.53" width="27.75" height="11.05" fill="rgb(0,0,239)"/>
<rect x="153.67" y="356.53" width="47.81" height="11.05" fill="rgb(0,0,255)"/>
<rect x="200.47" y="356.53" width="7.69" height="11.05" fill="rgb(0,16,255)"/>
<rect x="207.16" y="356.53" width="7.69" height="11.05" fill="rgb(0,0,255)"/>
<rect x="213.85" y="356.53" width="21.06" height="11.05" fill="rgb(0,16,255)"/>
<rect x="233.91" y="356.53" width="7.69" height="11.05" fill="rgb(0,32,255)"/>
<rect x="240.60" y="356.53" width="14.37" height="11.05" fill="rgb(0,16,255)"/>
<rect x="253.97" y="356.53" width="14.37" height="11.05" fill="rgb(0,32,255)"/>
<rect x="267.35" y="356.53" width="14.37" height="11.05" fill="rgb(0,48,255)"/>
<rect x="280.72" y="356.53" width="14.37" height="11.05" fill="rgb(0,64,255)"/>
<rect x="294.09" y="356.53" width="7.69" height="11.05" fill="rgb(0,80,255)"/>
<rect x="300.78" y="356.53" width="21.06" height="11.05" fill="rgb(0,96,255)"/>
<rect x="320.84" y="356.53" width="14.37" height="11.05" fill="rgb(0,112,255)"/>
<rect x="334.21" y="356.53" width="27.75" height="11.05" fill="rgb(0,128,255)"/>
<rect x="360.96" y="356.53" width="14.37" height="11.05" fill="rgb(0,143,255)"/>
<rect x="374.34" y="356.53" width="14.37" height="11.05" fill="rgb(0,159,255)"/>
<rect x="387.71" y="356.53" width="7.69" height="11.05" fill="rgb(0,175,255)"/>
<rect x="394.40" y="356.53" width="7.69" height="11.05" fill="rgb(0,159,255)"/>
<rect x="401.08" y="356.53" width="7.69" height="11.05" fill="rgb(0,175,255)"/>
<rect x="407.77" y="356.53" width="7.69" height="11.05" fill="rgb(0,159,255)"/>
<rect x="414.46" y="356.53" width="7.69" height="11.05" fill="rgb(0,175,255)"/>
<rect x="126.92" y="366.58" width="27.75" height="11.05" fill="rgb(0,0,239)"/>
<rect x="153.67" y="366.58" width="41.12" height="11.05" fill="rgb(0,0,255)"/>
<rect x="193.79" y="366.58" width="21.06" height="11.05" fill="rgb(0,16,255)"/>
<rect x="213.85" y="366.58" width="7.69" height="11.05" fill="rgb(0,0,255)"/>
<rect x="220.54" y="366.58" width="34.44" height="11.05" fill="rgb(0,16,255)"/>
<rect x="253.97" y="366.58" width="14.37" height="11.05" fill="rgb(0,32,255)"/>
<rect x="267.35" y="366.58" width="7.69" height="11.05" fill="rgb(0,48,255)"/>
<rect x="274.03" y="366.58" width="7.69" height="11.05" fill="rgb(0,64,255)"/>
<rect x="280.72" y="366.58" width="7.69" height="11.05" fill="rgb(0,48,255)"/>
<rect x="287.41" y="366.58" width="21.06" height="11.05" fill="rgb(0,80,255)"/>
<rect x="307.47" y="366.58" width="7.69" height="11.05" fill="rgb(0,96,255)"/>
<rect x="314.15" y="366.58" width="27.75" height="11.05" fill="rgb(0,112,255)"/>
<rect x="340.90" y="366.58" width="34.44" height="11.05" fill="rgb(0,128,255)"/>
<rect x="374.34" y="366.58" width="7.69" height="11.05" fill="rgb(0,143,255)"/>
<rect x="381.02" y="366.58" width="14.37" height="11.05" fill="rgb(0,159,255)"/>
<rect x="394.40" y="366.58" width="7.69" height="11.05" fill="rgb(0,175,255)"/>
<rect x="401.08" y="366.58" width="7.69" height="11.05" fill="rgb(0,159,255)"/>
<rect x="407.77" y="366.58" width="7.69" height="11.05" fill="rgb(0,175,255)"/>
<rect x="414.46" y="366.58" width="7.69" height="11.05" fill="rgb(0,159,255)"/>
<rect x="126.92" y="376.63" width="47.81" height="11.05" fill="rgb(0,0,255)"/>
<rect x="173.73" y="376.63" width="7.69" height="11.05" fill="rgb(0,16,255)"/>
<rect x="180.41" y="376.63" width="7.69" height="11.05" fill="rgb(0,0,255)"/>
<rect x="187.10" y="376.63" width="14.37" height="11.05" fill="rgb(0,16,255)"/>
<rect x="200.47" y="376.63" width="14.37" height="11.05" fill="rgb(0,0,255)"/>
<rect x="213.85" y="376.63" width="41.12" height="11.05" fill="rgb(0,16,255)"/>
<rect x="253.97" y="376.63" width="14.37" height="11.05" fill="rgb(0,32,255)"/>
<rect x="267.35" y="376.63" width="14.37" height="11.05" fill="rgb(0,48,255)"/>
<rect x="280.72" y="376.63" width="14.37" height="11.05" fill="rgb(0,64,255)"/>
<rect x="294.09" y="376.63" width="21.06" height="11.05" fill="rgb(0,80,255)"/>
<rect x="314.15" y="376.63" width="14.37" height="11.05" fill="rgb(0,96,255)"/>
<rect x="327.53" y="376.63" width="21.06" height="11.05" fill="rgb(0,112,255)"/>
<rect x="347.59" y="376.63" width="21.06" height="11.05" fill="rgb(0,128,255)"/>
<rect x="367.65" y="376.63" width="14.37" height="11.05" fill="rgb(0,143,255)"/>
<rect x="381.02" y="376.63" width="7.69" height="11.05" fill="rgb(0,159,255)"/>
<rect x="387.71" y="376.63" width="7.69" height="11.05" fill="rgb(0,143,255)"/>
<rect x="394.40" y="376.63" width="21.06" height="11.05" fill="rgb(0,159,255)"/>
<rect x="414.46" y="376.63" width="7.69" height="11.05" fill="rgb(0,175,255)"/>
<rect x="126.92" y="386.68" width="21.06" height="11.05" fill="rgb(0,0,255)"/>
<rect x="146.98" y="386.68" width="7.69" height="11.05" fill="rgb(0,16,255)"/>
<rect x="153.67" y="386.68" width="7.69" height="11.05" fill="rgb(0,0,255)"/>
<rect x="160.35" y="386.68" width="7.69" height="11.05" fill="rgb(0,16,255)"/>
<rect x="167.04" y="386.68" width="7.69" height="11.05" fill="rgb(0,0,255)"/>
<rect x="173.73" y="386.68" width="34.43" height="11.05" fill="rgb(0,16,255)"/>
<rect x="207.16" y="386.68" width="7.69" height="11.05" fill="rgb(0,32,255)"/>
<rect x="213.85" y="386.68" width="7.69" height="11.05" fill="rgb(0,16,255)"/>
<rect x="220.54" y="386.68" width="7.69" height="11.05" fill="rgb(0,32,255)"/>
<rect x="227.22" y="386.68" width="7.69" height="11.05" fill="rgb(0,16,255)"/>
<rect x="233.91" y="386.68" width="21.06" height="11.05" fill="rgb(0,32,255)"/>
<rect x="253.97" y="386.68" width="7.69" height="11.05" fill="rgb(0,16,255)"/>
<rect x="260.66" y="386.68" width="7.69" height="11.05" fill="rgb(0,32,255)"/>
<rect x="267.35" y="386.68" width="14.37" height="11.05" fill="rgb(0,48,255)"/>
<rect x="280.72" y="386.68" width="7.69" height="11.05" fill="rgb(0,64,255)"/>
<rect x="287.41" y="386.68" width="14.37" height="11.05" fill="rgb(0,80,255)"/>
<rect x="300.78" y="386.68" width="14.37" height="11.05" fill="rgb(0,96,255)"/>
<rect x="314.15" y="386.68" width="7.69" height="11.05" fill="rgb(0,112,255)"/>
<rect x="320.84" y="386.68" width="7.69" height="11.05" fill="rgb(0,96,255)"/>
<rect x="327.53" y="386.68" width="14.37" height="11.05" fill="rgb(0,112,255)"/>
<rect x="340.90" y="386.68" width="21.06" height="11.05" fill="rgb(0,128,255)"/>
<rect x="360.96" y="386.68" width="27.75" height="11.05" fill="rgb(0,143,255)"/>
<rect x="387.71" y="386.68" width="34.44" height="11.05" fill="rgb(0,159,255)"/>
<rect x="126.92" y="396.73" width="7.69" height="11.05" fill="rgb(0,0,239)"/>
<rect x="133.60" y="396.73" width="34.44" height="11.05" fill="rgb(0,0,255)"/>
<rect x="167.04" y="396.73" width="7.69" height="11.05" fill="rgb(0,16,255)"/>
<rect x="173.73" y="396.73" width="14.37" height="11.05" fill="rgb(0,0,255)"/>
<rect x="187.10" y="396.73" width="27.75" height="11.05" fill="rgb(0,16,255)"/>
<rect x="213.85" y="396.73" width="7.69" height="11.05" fill="rgb(0,32,255)"/>
<rect x="220.54" y="396.73" width="7.69" height="11.05" fill="rgb(0,16,255)"/>
<rect x="227.22" y="396.73" width="27.75" height="11.05" fill="rgb(0,32,255)"/>
<rect x="253.97" y="396.73" width="7.69" height="11.05" fill="rgb(0,16,255)"/>
<rect x="260.66" y="396.73" width="14.37" height="11.05" fill="rgb(0,32,255)"/>
<rect x="274.03" y="396.73" width="14.37" height="11.05" fill="rgb(0,48,255)"/>
<rect x="287.41" y="396.73" width="14.37" height="11.05" fill="rgb(0,64,255)"/>
<rect x="300.78" y="396.73" width="14.37" height="11.05" fill="rgb(0,80,255)"/>
<rect x="314.15" y="396.73" width="27.75" height="11.05" fill="rgb(0,96,255)"/>
<rect x="340.90" y="396.73" width="7.69" height="11.05" fill="rgb(0,128,255)"/>
<rect x="347.59" y="396.73" width="14.37" height="11.05" fill="rgb(0,112,255)"/>
<rect x="360.96" y="396.73" width="14.37" height="11.05" fill="rgb(0,128,255)"/>
<rect x="374.34" y="396.73" width="7.69" height="11.05" fill="rgb(0,143,255)"/>
<rect x="381.02" y="396.73" width="7.69" height="11.05" fill="rgb(0,159,255)"/>
<rect x="387.71" y="396.73" width="14.37" height="11.05" fill="rgb(0,143,255)"/>
<rect x="401.08" y="396.73" width="21.06" height="11.05" fill="rgb(0,159,255)"/>
<rect x="126.92" y="406.78" width="34.44" height="11.05" fill="rgb(0,0,255)"/>
<rect x="160.35" y="406.78" width="7.69" height="11.05" fill="rgb(0,16,255)"/>
<rect x="167.04" y="406.78" width="7.69" height="11.05" fill="rgb(0,0,255)"/>
<rect x="173.73" y="406.78" width="34.43" height="11.05" fill="rgb(0,16,255)"/>
<rect x="207.16" y="406.78" width="14.37" height="11.05" fill="rgb(0,32,255)"/>
<rect x="220.54" y="406.78" width="7.69" height="11.05" fill="rgb(0,16,255)"/>
<rect x="227.22" y="406.78" width="7.69" height="11.05" fill="rgb(0,32,255)"/>
<rect x="233.91" y="406.78" width="7.69" height="11.05" fill="rgb(0,16,255)"/>
<rect x="240.60" y="406.78" width="47.81" height="11.05" fill="rgb(0,32,255)"/>
<rect x="287.41" y="406.78" width="7.69" height="11.05" fill="rgb(0,48,255)"/>
<rect x="294.09" y="406.78" width="14.37" height="11.05" fill="rgb(0,64,255)"/>
<rect x="307.47" y="406.78" width="34.44" height="11.05" fill="rgb(0,80,255)"/>
<rect x="340.90" y="406.78" width="21.06" height="11.05" fill="rgb(0,96,255)"/>
<rect x="360.96" y="406.78" width="7.69" height="11.05" fill="rgb(0,112,255)"/>
<rect x="367.65" y="406.78" width="7.69" height="11.05" fill="rgb(0,128,255)"/>
<rect x="374.34" y="406.78" width="7.69" height="11.05" fill="rgb(0,112,255)"/>
<rect x="381.02" y="406.78" width="21.06" height="11.05" fill="rgb(0,128,255)"/>
<rect x="401.08" y="406.78" width="7.69" height="11.05" fill="rgb(0,143,255)"/>
<rect x="407.77" y="406.78" width="7.69" height="11.05" fill="rgb(0,128,255)"/>
<rect x="414.46" y="406.78" width="7.69" height="11.05" fill="rgb(0,143,255)"/>
<rect x="126.92" y="416.83" width="27.75" height="11.05" fill="rgb(0,0,255)"/>
<rect x="153.67" y="416.83" width="7.69" height="11.05" fill="rgb(0,16,255)"/>
<rect x="160.35" y="416.83" width="7.69" height="11.05" fill="rgb(0,0,255)"/>
<rect x="167.04" y="416.83" width="47.81" height="11.05" fill="rgb(0,16,255)"/>
<rect x="213.85" y="416.83" width="14.37" height="11.05" fill="rgb(0,32,255)"/>
<rect x="227.22" y="416.83" width="14.37" height="11.05" fill="rgb(0,16,255)"/>
<rect x="240.60" y="416.83" width="34.44" height="11.05" fill="rgb(0,32,255)"/>
<rect x="274.03" y="416.83" width="7.69" height="11.05" fill="rgb(0,48,255)"/>
<rect x="280.72" y="416.83" width="14.37" height="11.05" fill="rgb(0,32,255)"/>
<rect x="294.09" y="416.83" width="14.37" height="11.05" fill="rgb(0,48,255)"/>
<rect x="307.47" y="416.83" width="7.69" height="11.05" fill="rgb(0,64,255)"/>
<rect x="314.15" y="416.83" width="14.37" height="11.05" fill="rgb(0,48,255)"/>
<rect x="327.53" y="416.83" width="7.69" height="11.05" fill="rgb(0,64,255)"/>
<rect x="334.21" y="416.83" width="21.06" height="11.05" fill="rgb(0,80,255)"/>
<rect x="354.28" y="416.83" width="14.37" height="11.05" fill="rgb(0,96,255)"/>
<rect x="367.65" y="416.83" width="7.69" height="11.05" fill="rgb(0,112,255)"/>
<rect x="374.34" y="416.83" width="7.69" height="11.05" fill="rgb(0,96,255)"/>
<rect x="381.02" y="416.83" width="27.75" height="11.05" fill="rgb(0,112,255)"/>
<rect x="407.77" y="416.83" width="14.37" height="11.05" fill="rgb(0,128,255)"/>
<rect x="126.92" y="426.88" width="7.69" height="11.05" fill="rgb(0,0,239)"/>
<rect x="133.60" y="426.88" width="34.44" height="11.05" fill="rgb(0,0,255)"/>
<rect x="167.04" y="426.88" width="7.69" height="11.05" fill="rgb(0,16,255)"/>
<rect x="173.73" y="426.88" width="7.69" height="11.05" fill="rgb(0,0,255)"/>
<rect x="180.41" y="426.88" width="27.75" height="11.05" fill="rgb(0,16,255)"/>
<rect x="207.16" y="426.88" width="7.69" height="11.05" fill="rgb(0,32,255)"/>
<rect x="213.85" y="426.88" width="7.69" height="11.05" fill="rgb(0,16,255)"/>
<rect x="220.54" y="426.88" width="47.81" height="11.05" fill="rgb(0,32,255)"/>
<rect x="267.35" y="426.88" width="14.37" height="11.05" fill="rgb(0,48,255)"/>
<rect x="280.72" y="426.88" width="14.37" height="11.05" fill="rgb(0,32,255)"/>
<rect x="294.09" y="426.88" width="14.37" height="11.05" fill="rgb(0,48,255)"/>
<rect x="307.47" y="426.88" width="7.69" height="11.05" fill="rgb(0,32,255)"/>
<rect x="314.15" y="426.88" width="14.37" height="11.05" fill="rgb(0,48,255)"/>
<rect x="327.53" y="426.88" width="21.06" height="11.05" fill="rgb(0,64,255)"/>
<rect x="347.59" y="426.88" width="21.06" height="11.05" fill="rgb(0,80,255)"/>
<rect x="367.65" y="426.88" width="21.06" height="11.05" fill="rgb(0,96,255)"/>
<rect x="387.71" y="426.88" width="34.44" height="11.05" fill="rgb(0,112,255)"/>
<rect x="126.92" y="436.93" width="7.69" height="11.05" fill="rgb(0,0,255)"/>
<rect x="133.60" y="436.93" width="7.69" height="11.05" fill="rgb(0,0,239)"/>
<rect x="140.29" y="436.93" width="27.75" height="11.05" fill="rgb(0,0,255)"/>
<rect x="167.04" y="436.93" width="7.69" height="11.05" fill="rgb(0,16,255)"/>
<rect x="173.73" y="436.93" width="7.69" height="11.05" fill="rgb(0,0,255)"/>
<rect x="180.41" y="436.93" width="34.44" height="11.05" fill="rgb(0,16,255)"/>
<rect x="213.85" y="436.93" width="14.37" height="11.05" fill="rgb(0,32,255)"/>
<rect x="227.22" y="436.93" width="14.37" height="11.05" fill="rgb(0,16,255)"/>
<rect x="240.60" y="436.93" width="34.44" height="11.05" fill="rgb(0,32,255)"/>
<rect x="274.03" y="436.93" width="14.37" height="11.05" fill="rgb(0,48,255)"/>
<rect x="287.41" y="436.93" width="7.69" height="11.05" fill="rgb(0,32,255)"/>
<rect x="294.09" y="436.93" width="34.44" height="11.05" fill="rgb(0,48,255)"/>
<rect x="327.53" y="436.93" width="21.06" height="11.05" fill="rgb(0,64,255)"/>
<rect x="347.59" y="436.93" width="7.69" height="11.05" fill="rgb(0,80,255)"/>
<rect x="354.28" y="436.93" width="7.69" height="11.05" fill="rgb(0,64,255)"/>
<rect x="360.96" y="436.93" width="21.06" height="11.05" fill="rgb(0,80,255)"/>
<rect x="381.02" y="436.93" width="21.06" height="11.05" fill="rgb(0,112,255)"/>
<rect x="401.08" y="436.93" width="7.69" height="11.05" fill="rgb(0,96,255)"/>
<rect x="407.77" y="436.93" width="14.37" height="11.05" fill="rgb(0,112,255)"/>
<rect x="126.92" y="446.98" width="34.44" height="11.05" fill="rgb(0,0,255)"/>
<rect x="160.35" y="446.98" width="54.50" height="11.05" fill="rgb(0,16,255)"/>
<rect x="213.85" y="446.98" width="61.18" height="11.05" fill="rgb(0,32,255)"/>
<rect x="274.03" y="446.98" width="14.37" height="11.05" fill="rgb(0,48,255)"/>
<rect x="287.41" y="446.98" width="7.69" height="11.05" fill="rgb(0,32,255)"/>
<rect x="294.09" y="446.98" width="27.75" height="11.05" fill="rgb(0,48,255)"/>
<rect x="320.84" y="446.98" width="7.69" height="11.05" fill="rgb(0,64,255)"/>
<rect x="327.53" y="446.98" width="21.06" height="11.05" fill="rgb(0,48,255)"/>
<rect x="347.59" y="446.98" width="21.06" height="11.05" fill="rgb(0,64,255)"/>
<rect x="367.65" y="446.98" width="7.69" height="11.05" fill="rgb(0,80,255)"/>
<rect x="374.34" y="446.98" width="21.06" height="11.05" fill="rgb(0,96,255)"/>
<rect x="394.40" y="446.98" width="7.69" height="11.05" fill="rgb(0,112,255)"/>
<rect x="401.08" y="446.98" width="7.69" height="11.05" fill="rgb(0,96,255)"/>
<rect x="407.77" y="446.98" width="7.69" height="11.05" fill="rgb(0,112,255)"/>
<rect x="414.46" y="446.98" width="7.69" height="11.05" fill="rgb(0,96,255)"/>
<rect x="126.92" y="457.03" width="27.75" height="11.05" fill="rgb(0,0,255)"/>
<rect x="153.67" y="457.03" width="14.37" height="11.05" fill="rgb(0,16,255)"/>
<rect x="167.04" y="457.03" width="14.37" height="11.05" fill="rgb(0,0,255)"/>
<rect x="180.41" y="457.03" width="34.44" height="11.05" fill="rgb(0,16,255)"/>
<rect x="213.85" y="457.03" width="54.50" height="11.05" fill="rgb(0,32,255)"/>
<rect x="267.35" y="457.03" width="14.37" height="11.05" fill="rgb(0,48,255)"/>
<rect x="280.72" y="457.03" width="14.37" height="11.05" fill="rgb(0,32,255)"/>
<rect x="294.09" y="457.03" width="34.44" height="11.05" fill="rgb(0,48,255)"/>
<rect x="327.53" y="457.03" width="14.37" height="11.05" fill="rgb(0,64,255)"/>
<rect x="340.90" y="457.03" width="21.06" height="11.05" fill="rgb(0,48,255)"/>
<rect x="360.96" y="457.03" width="27.75" height="11.05" fill="rgb(0,64,255)"/>
<rect x="387.71" y="457.03" width="21.06" height="11.05" fill="rgb(0,80,255)"/>
<rect x="407.77" y="457.03" width="7.69" height="11.05" fill="rgb(0,64,255)"/>
<rect x="414.46" y="457.03" width="7.69" height="11.05" fill="rgb(0,96,255)"/>
<rect x="126.92" y="467.08" width="34.44" height="11.05" fill="rgb(0,0,255)"/>
<rect x="160.35" y="467.08" width="54.50" height="11.05" fill="rgb(0,16,255)"/>
<rect x="213.85" y="467.08" width="14.37" height="11.05" fill="rgb(0,32,255)"/>
<rect x="227.22" y="467.08" width="7.69" height="11.05" fill="rgb(0,16,255)"/>
<rect x="233.91" y="467.08" width="27.75" height="11.05" fill="rgb(0,32,255)"/>
<rect x="260.66" y="467.08" width="7.69" height="11.05" fill="rgb(0,48,255)"/>
<rect x="267.35" y="467.08" width="14.37" height="11.05" fill="rgb(0,32,255)"/>
<rect x="280.72" y="467.08" width="47.81" height="11.05" fill="rgb(0,48,255)"/>
<rect x="327.53" y="467.08" width="47.81" height="11.05" fill="rgb(0,64,255)"/>
<rect x="374.34" y="467.08" width="7.69" height="11.05" fill="rgb(0,80,255)"/>
<rect x="381.02" y="467.08" width="7.69" height="11.05" fill="rgb(0,64,255)"/>
<rect x="387.71" y="467.08" width="7.69" height="11.05" fill="rgb(0,80,255)"/>
<rect x="394.40" y="467.08" width="7.69" height="11.05" fill="rgb(0,64,255)"/>
<rect x="401.08" y="467.08" width="7.69" height="11.05" fill="rgb(0,80,255)"/>
<rect x="407.77" y="467.08" width="7.69" height="11.05" fill="rgb(0,64,255)"/>
<rect x="414.46" y="467.08" width="7.69" height="11.05" fill="rgb(0,80,255)"/>
<rect x="126.92" y="477.13" width="41.12" height="11.05" fill="rgb(0,0,255)"/>
<rect x="167.04" y="477.13" width="7.69" height="11.05" fill="rgb(0,16,255)"/>
<rect x="173.73" y="477.13" width="7.69" height="11.05" fill="rgb(0,0,255)"/>
<rect x="180.41" y="477.13" width="27.75" height="11.05" fill="rgb(0,16,255)"/>
<rect x="207.16" y="477.13" width="47.81" height="11.05" fill="rgb(0,32,255)"/>
<rect x="253.97" y="477.13" width="7.69" height="11.05" fill="rgb(0,48,255)"/>
<rect x="260.66" y="477.13" width="21.06" height="11.05" fill="rgb(0,32,255)"/>
<rect x="280.72" y="477.13" width="7.69" height="11.05" fill="rgb(0,48,255)"/>
<rect x="287.41" y="477.13" width="7.69" height="11.05" fill="rgb(0,32,255)"/>
<rect x="294.09" y="477.13" width="27.75" height="11.05" fill="rgb(0,48,255)"/>
<rect x="320.84" y="477.13" width="7.69" height="11.05" fill="rgb(0,64,255)"/>
<rect x="327.53" y="477.13" width="14.37" height="11.05" fill="rgb(0,48,255)"/>
<rect x="340.90" y="477.13" width="14.37" height="11.05" fill="rgb(0,64,255)"/>
<rect x="354.28" y="477.13" width="7.69" height="11.05" fill="rgb(0,48,255)"/>
<rect x="360.96" y="477.13" width="7.69" height="11.05" fill="rgb(0,64,255)"/>
<rect x="367.65" y="477.13" width="7.69" height="11.05" fill="rgb(0,80,255)"/>
<rect x="374.34" y="477.13" width="21.06" height="11.05" fill="rgb(0,64,255)"/>
<rect x="394.40" y="477.13" width="27.75" height="11.05" fill="rgb(0,80,255)"/>
<rect x="126.92" y="487.18" width="27.75" height="11.05" fill="rgb(0,0,255)"/>
<rect x="153.67" y="487.18" width="7.69" height="11.05" fill="rgb(0,16,255)"/>
<rect x="160.35" y="487.18" width="7.69" height="11.05" fill="rgb(0,0,255)"/>
<rect x="167.04" y="487.18" width="7.69" height="11.05" fill="rgb(0,16,255)"/>
<rect x="173.73" y="487.18" width="14.37" height="11.05" fill="rgb(0,0,255)"/>
<rect x="187.10" y="487.18" width="27.75" height="11.05" fill="rgb(0,16,255)"/>
<rect x="213.85" y="487.18" width="61.18" height="11.05" fill="rgb(0,32,255)"/>
<rect x="274.03" y="487.18" width="41.12" height="11.05" fill="rgb(0,48,255)"/>
<rect x="314.15" y="487.18" width="14.37" height="11.05" fill="rgb(0,64,255)"/>
<rect x="327.53" y="487.18" width="7.69" height="11.05" fill="rgb(0,48,255)"/>
<rect x="334.21" y="487.18" width="47.81" height="11.05" fill="rgb(0,64,255)"/>
<rect x="381.02" y="487.18" width="14.37" height="11.05" fill="rgb(0,80,255)"/>
<rect x="394.40" y="487.18" width="7.69" height="11.05" fill="rgb(0,64,255)"/>
<rect x="401.08" y="487.18" width="21.06" height="11.05" fill="rgb(0,80,255)"/>
<rect x="126.92" y="497.23" width="34.44" height="11.05" fill="rgb(0,0,255)"/>
<rect x="160.35" y="497.23" width="54.50" height="11.05" fill="rgb(0,16,255)"/>
<rect x="213.85" y="497.23" width="14.37" height="11.05" fill="rgb(0,32,255)"/>
<rect x="227.22" y="497.23" width="7.69" height="11.05" fill="rgb(0,16,255)"/>
<rect x="233.91" y="497.23" width="41.12" height="11.05" fill="rgb(0,32,255)"/>
<rect x="274.03" y="497.23" width="7.69" height="11.05" fill="rgb(0,48,255)"/>
<rect x="280.72" y="497.23" width="7.69" height="11.05" fill="rgb(0,32,255)"/>
<rect x="287.41" y="497.23" width="41.12" height="11.05" fill="rgb(0,48,255)"/>
<rect x="327.53" y="497.23" width="54.50" height="11.05" fill="rgb(0,64,255)"/>
<rect x="381.02" y="497.23" width="41.12" height="11.05" fill="rgb(0,80,255)"/>
<rect x="126.92" y="507.28" width="47.81" height="11.05" fill="rgb(0,0,255)"/>
<rect x="173.73" y="507.28" width="47.81" height="11.05" fill="rgb(0,16,255)"/>
<rect x="220.54" y="507.28" width="41.12" height="11.05" fill="rgb(0,32,255)"/>
<rect x="260.66" y="507.28" width="7.69" height="11.05" fill="rgb(0,48,255)"/>
<rect x="267.35" y="507.28" width="34.43" height="11.05" fill="rgb(0,32,255)"/>
<rect x="300.78" y="507.28" width="41.12" height="11.05" fill="rgb(0,48,255)"/>
<rect x="340.90" y="507.28" width="41.12" height="11.05" fill="rgb(0,64,255)"/>
<rect x="381.02" y="507.28" width="21.06" height="11.05" fill="rgb(0,80,255)"/>
<rect x="401.08" y="507.28" width="7.69" height="11.05" fill="rgb(0,64,255)"/>
<rect x="407.77" y="507.28" width="14.37" height="11.05" fill="rgb(0,80,255)"/>
<rect x="229.95" y="447.48" width="13.37" height="16.75" fill="rgb(0,0,223)"/>
<rect x="307.97" y="470.93" width="11.15" height="16.75" fill="rgb(0,0,223)"/>
<rect x="254.47" y="390.53" width="8.92" height="16.75" fill="rgb(0,0,223)"/>
<rect x="296.82" y="380.48" width="8.92" height="13.40" fill="rgb(0,0,255)"/>
<rect x="296.82" y="417.33" width="13.37" height="16.75" fill="rgb(0,0,255)"/>
<rect x="350.32" y="434.08" width="13.37" height="16.75" fill="rgb(0,0,239)"/>
<rect x="205.43" y="333.58" width="11.15" height="10.05" fill="rgb(0,0,255)"/>
<rect x="236.64" y="357.03" width="8.92" height="10.05" fill="rgb(0,16,255)"/>
<rect x="272.30" y="357.03" width="6.69" height="6.70" fill="rgb(0,16,255)"/>
<rect x="274.53" y="256.53" width="17.83" height="20.10" fill="rgb(0,112,255)"/>
<rect x="274.53" y="256.53" width="20.06" height="36.85" fill="rgb(0,143,255)"/>
</g>
<g shape-rendering="crispEdges">
<rect x="299.05" y="276.63" width="100.31" height="13.40" fill="rgb(0,160,255)"/>
<rect x="345.86" y="253.18" width="20.06" height="36.85" fill="rgb(0,178,255)"/>
<rect x="365.92" y="253.18" width="22.29" height="36.85" fill="rgb(0,222,255)"/>
<rect x="388.21" y="256.53" width="6.69" height="33.50" fill="rgb(0,238,255)"/>
<rect x="394.90" y="249.83" width="4.46" height="40.20" fill="rgb(0,240,255)"/>
<rect x="394.90" y="283.33" width="53.50" height="30.15" fill="rgb(0,240,255)"/>
<rect x="448.39" y="300.08" width="20.06" height="36.85" fill="rgb(0,165,255)"/>
<rect x="481.83" y="313.48" width="13.37" height="36.85" fill="rgb(0,150,255)"/>
<rect x="410.50" y="313.48" width="26.75" height="23.45" fill="rgb(0,170,255)"/>
<rect x="394.90" y="313.48" width="6.69" height="46.90" fill="rgb(0,100,255)"/>
<rect x="403.81" y="336.93" width="20.06" height="23.45" fill="rgb(0,110,255)"/>
<rect x="401.58" y="313.48" width="8.92" height="23.45" fill="rgb(0,150,255)"/>
<rect x="397.13" y="360.38" width="26.75" height="13.40" fill="rgb(0,120,255)"/>
<rect x="394.90" y="363.73" width="24.52" height="36.85" fill="rgb(0,130,255)"/>
<rect x="401.58" y="407.28" width="22.29" height="26.80" fill="rgb(0,100,255)"/>
<rect x="394.90" y="410.63" width="6.69" height="23.45" fill="rgb(0,100,255)"/>
<rect x="508.58" y="350.33" width="26.75" height="16.75" fill="rgb(0,120,255)"/>
<rect x="428.33" y="501.08" width="13.37" height="20.10" fill="rgb(0,50,255)"/>
<rect x="435.02" y="497.73" width="13.37" height="20.10" fill="rgb(0,110,255)"/>
<rect x="464.00" y="403.93" width="13.37" height="20.10" fill="rgb(0,150,255)"/>
<rect x="499.66" y="420.68" width="13.37" height="20.10" fill="rgb(0,110,255)"/>
<rect x="535.33" y="407.28" width="13.37" height="20.10" fill="rgb(0,150,255)"/>
<rect x="573.22" y="427.38" width="13.37" height="20.10" fill="rgb(0,70,255)"/>
<rect x="602.20" y="440.78" width="13.37" height="20.10" fill="rgb(0,120,255)"/>
<rect x="568.76" y="480.98" width="13.37" height="20.10" fill="rgb(0,80,255)"/>
<rect x="591.05" y="387.18" width="13.37" height="20.10" fill="rgb(0,120,255)"/>
<rect x="604.42" y="367.08" width="13.37" height="20.10" fill="rgb(0,130,255)"/>
<rect x="370.38" y="226.38" width="13.37" height="20.10" fill="rgb(0,175,255)"/>
<rect x="361.46" y="233.08" width="13.37" height="20.10" fill="rgb(0,215,255)"/>
<rect x="339.17" y="223.03" width="13.37" height="20.10" fill="rgb(0,150,255)"/>
<rect x="330.26" y="233.08" width="13.37" height="20.10" fill="rgb(0,165,255)"/>
<rect x="305.74" y="253.18" width="13.37" height="20.10" fill="rgb(0,190,255)"/>
<rect x="303.51" y="263.23" width="22.29" height="20.10" fill="rgb(0,150,255)"/>
<rect x="350.32" y="246.48" width="4.46" height="13.40" fill="rgb(0,90,255)"/>
<rect x="341.40" y="259.88" width="8.92" height="6.70" fill="rgb(0,110,255)"/>
<rect x="336.94" y="266.58" width="8.92" height="6.70" fill="rgb(0,30,255)"/>
<rect x="374.84" y="246.48" width="13.37" height="13.40" fill="rgb(0,110,255)"/>
<rect x="399.36" y="236.43" width="13.37" height="20.10" fill="rgb(0,0,160)"/>
<rect x="435.02" y="243.13" width="13.37" height="20.10" fill="rgb(0,0,160)"/>
<rect x="394.90" y="249.83" width="15.60" height="40.20" fill="rgb(0,235,255)"/>
<rect x="410.50" y="259.88" width="4.46" height="30.15" fill="rgb(0,235,255)"/>
<rect x="414.96" y="266.58" width="2.23" height="23.45" fill="rgb(0,235,255)"/>
<rect x="417.19" y="263.23" width="11.14" height="26.80" fill="rgb(0,235,255)"/>
<rect x="428.33" y="259.88" width="2.23" height="30.15" fill="rgb(0,235,255)"/>
<rect x="430.56" y="256.53" width="15.60" height="20.10" fill="rgb(0,240,255)"/>
<rect x="430.56" y="276.63" width="11.14" height="6.70" fill="rgb(0,225,255)"/>
<rect x="435.02" y="283.33" width="13.37" height="6.70" fill="rgb(0,240,255)"/>
<rect x="399.36" y="249.83" width="11.14" height="3.35" fill="rgb(0,60,255)"/>
<rect x="435.02" y="256.53" width="11.15" height="3.35" fill="rgb(0,60,255)"/>
<rect x="452.85" y="256.53" width="13.37" height="26.80" fill="rgb(20,255,235)"/>
<rect x="452.85" y="283.33" width="13.37" height="6.70" fill="rgb(0,0,150)"/>
<rect x="394.90" y="273.28" width="24.52" height="16.75" fill="rgb(0,195,255)"/>
<rect x="419.42" y="273.28" width="11.15" height="16.75" fill="rgb(0,90,255)"/>
<rect x="428.33" y="279.98" width="2.23" height="10.05" fill="rgb(0,30,255)"/>
<rect x="394.90" y="283.33" width="8.92" height="10.05" fill="rgb(0,180,255)"/>
<rect x="419.42" y="283.33" width="11.15" height="6.70" fill="rgb(0,60,255)"/>
<rect x="452.85" y="283.33" width="13.37" height="20.10" fill="rgb(0,0,150)"/>
<rect x="452.85" y="300.08" width="13.37" height="10.05" fill="rgb(0,60,255)"/>
<rect x="468.45" y="303.43" width="13.37" height="20.10" fill="rgb(0,180,255)"/>
<rect x="490.75" y="293.38" width="13.37" height="20.10" fill="rgb(0,160,255)"/>
<rect x="437.25" y="310.13" width="11.15" height="20.10" fill="rgb(0,60,255)"/>
<rect x="443.94" y="310.13" width="2.23" height="16.75" fill="rgb(0,20,240)"/>
<rect x="468.45" y="330.23" width="13.37" height="20.10" fill="rgb(0,30,230)"/>
<rect x="470.68" y="333.58" width="8.92" height="13.40" fill="rgb(0,0,205)"/>
<rect x="430.56" y="343.63" width="22.29" height="16.75" fill="rgb(0,170,255)"/>
<rect x="457.31" y="343.63" width="11.14" height="16.75" fill="rgb(0,170,255)"/>
<rect x="472.91" y="350.33" width="13.37" height="10.05" fill="rgb(0,150,255)"/>
<rect x="423.88" y="373.78" width="17.83" height="33.50" fill="rgb(0,115,255)"/>
<rect x="421.65" y="397.23" width="13.37" height="20.10" fill="rgb(0,105,255)"/>
<rect x="435.02" y="407.28" width="4.46" height="6.70" fill="rgb(0,105,255)"/>
<rect x="423.88" y="424.03" width="20.06" height="10.05" fill="rgb(0,100,255)"/>
<rect x="443.94" y="424.03" width="13.37" height="20.10" fill="rgb(0,60,255)"/>
<rect x="430.56" y="360.38" width="8.92" height="3.35" fill="rgb(0,190,255)"/>
<rect x="439.48" y="360.38" width="13.37" height="10.05" fill="rgb(0,150,255)"/>
<rect x="464.00" y="363.73" width="8.92" height="20.10" fill="rgb(0,110,255)"/>
<rect x="472.91" y="367.08" width="11.14" height="20.10" fill="rgb(0,80,255)"/>
<rect x="484.06" y="370.43" width="11.14" height="20.10" fill="rgb(0,150,255)"/>
<rect x="457.31" y="360.38" width="6.69" height="3.35" fill="rgb(0,200,255)"/>
<rect x="492.97" y="360.38" width="2.23" height="10.05" fill="rgb(0,100,255)"/>
<rect x="419.42" y="373.78" width="4.46" height="26.80" fill="rgb(0,120,255)"/>
<rect x="490.75" y="293.38" width="13.37" height="20.10" fill="rgb(0,165,255)"/>
<rect x="501.89" y="300.08" width="13.37" height="20.10" fill="rgb(0,165,255)"/>
<rect x="506.35" y="286.68" width="13.37" height="20.10" fill="rgb(0,185,255)"/>
<rect x="524.18" y="290.03" width="13.37" height="20.10" fill="rgb(0,195,255)"/>
<rect x="546.47" y="296.73" width="13.37" height="20.10" fill="rgb(0,160,255)"/>
<rect x="562.07" y="306.78" width="13.37" height="20.10" fill="rgb(0,135,255)"/>
<rect x="546.47" y="323.53" width="13.37" height="20.10" fill="rgb(0,115,255)"/>
<rect x="490.75" y="313.48" width="11.14" height="20.10" fill="rgb(0,235,255)"/>
<rect x="501.89" y="316.83" width="13.37" height="20.10" fill="rgb(0,235,255)"/>
<rect x="519.72" y="316.83" width="13.37" height="20.10" fill="rgb(0,190,255)"/>
<rect x="521.95" y="326.88" width="15.60" height="26.80" fill="rgb(0,150,255)"/>
<rect x="537.55" y="330.23" width="6.69" height="23.45" fill="rgb(0,150,255)"/>
<rect x="544.24" y="343.63" width="11.15" height="10.05" fill="rgb(0,150,255)"/>
<rect x="506.35" y="340.28" width="13.37" height="13.40" fill="rgb(0,90,255)"/>
<rect x="490.75" y="333.58" width="4.46" height="16.75" fill="rgb(0,160,255)"/>
<rect x="497.43" y="343.63" width="8.92" height="10.05" fill="rgb(0,200,255)"/>
<rect x="559.84" y="343.63" width="13.37" height="10.05" fill="rgb(0,50,255)"/>
<rect x="577.68" y="350.33" width="13.37" height="3.35" fill="rgb(0,30,250)"/>
<rect x="497.43" y="350.33" width="11.14" height="13.40" fill="rgb(0,220,255)"/>
<rect x="484.06" y="370.43" width="13.37" height="20.10" fill="rgb(0,160,255)"/>
<rect x="492.97" y="360.38" width="13.37" height="20.10" fill="rgb(0,90,255)"/>
<rect x="508.58" y="360.38" width="13.37" height="20.10" fill="rgb(0,130,255)"/>
<rect x="524.18" y="353.68" width="13.37" height="20.10" fill="rgb(0,130,255)"/>
<rect x="533.10" y="363.73" width="13.37" height="20.10" fill="rgb(0,120,255)"/>
<rect x="539.78" y="350.33" width="13.37" height="6.70" fill="rgb(0,150,255)"/>
<rect x="544.24" y="377.13" width="13.37" height="20.10" fill="rgb(0,60,255)"/>
<rect x="557.62" y="377.13" width="13.37" height="20.10" fill="rgb(0,120,255)"/>
<rect x="562.07" y="370.43" width="13.37" height="20.10" fill="rgb(0,55,255)"/>
<rect x="562.07" y="377.13" width="8.92" height="13.40" fill="rgb(0,90,255)"/>
<rect x="559.84" y="343.63" width="13.37" height="20.10" fill="rgb(0,50,255)"/>
<rect x="577.68" y="350.33" width="13.37" height="20.10" fill="rgb(0,30,250)"/>
<rect x="379.30" y="407.28" width="11.14" height="46.90" fill="rgb(0,110,255)"/>
<rect x="390.44" y="413.98" width="4.46" height="40.20" fill="rgb(0,110,255)"/>
<rect x="394.90" y="410.63" width="6.69" height="40.20" fill="rgb(0,110,255)"/>
<rect x="401.58" y="407.28" width="22.29" height="43.55" fill="rgb(0,100,255)"/>
<rect x="412.73" y="450.83" width="22.29" height="3.35" fill="rgb(0,90,255)"/>
<rect x="379.30" y="450.83" width="20.06" height="3.35" fill="rgb(0,110,255)"/>
<rect x="421.65" y="400.58" width="20.06" height="10.05" fill="rgb(0,95,255)"/>
<rect x="421.65" y="410.63" width="13.37" height="6.70" fill="rgb(0,95,255)"/>
<rect x="423.88" y="430.73" width="20.06" height="23.45" fill="rgb(0,90,255)"/>
<rect x="423.88" y="427.38" width="6.69" height="3.35" fill="rgb(0,90,255)"/>
<rect x="443.94" y="424.03" width="13.37" height="36.85" fill="rgb(0,50,255)"/>
<rect x="437.25" y="447.48" width="13.37" height="20.10" fill="rgb(0,45,255)"/>
<rect x="450.62" y="447.48" width="4.46" height="16.75" fill="rgb(0,45,255)"/>
<rect x="365.92" y="253.18" width="2.23" height="6.70" fill="rgb(255,255,255)"/>
<rect x="350.32" y="279.98" width="2.23" height="10.05" fill="rgb(255,255,255)"/>
<rect x="316.88" y="283.33" width="6.69" height="6.70" fill="rgb(255,255,255)"/>
<rect x="403.81" y="290.03" width="6.69" height="3.35" fill="rgb(255,255,255)"/>
<rect x="446.17" y="303.43" width="2.23" height="3.35" fill="rgb(255,255,255)"/>
<rect x="423.88" y="306.78" width="8.92" height="3.35" fill="rgb(255,255,255)"/>
<rect x="448.39" y="283.33" width="4.46" height="16.75" fill="rgb(255,255,255)"/>
<rect x="466.23" y="283.33" width="13.37" height="20.10" fill="rgb(255,255,255)"/>
<rect x="464.00" y="310.13" width="4.46" height="10.05" fill="rgb(255,255,255)"/>
<rect x="408.27" y="316.83" width="2.23" height="16.75" fill="rgb(255,255,255)"/>
<rect x="401.58" y="340.28" width="2.23" height="13.40" fill="rgb(255,255,255)"/>
<rect x="423.88" y="336.93" width="33.44" height="6.70" fill="rgb(255,255,255)"/>
<rect x="423.88" y="343.63" width="6.69" height="16.75" fill="rgb(255,255,255)"/>
<rect x="452.85" y="343.63" width="4.46" height="16.75" fill="rgb(255,255,255)"/>
<rect x="468.45" y="350.33" width="4.46" height="10.05" fill="rgb(255,255,255)"/>
<rect x="486.29" y="350.33" width="8.92" height="10.05" fill="rgb(255,255,255)"/>
<rect x="394.90" y="360.38" width="2.23" height="3.35" fill="rgb(255,255,255)"/>
<rect x="423.88" y="360.38" width="4.46" height="13.40" fill="rgb(255,255,255)"/>
<rect x="428.33" y="363.73" width="11.15" height="10.05" fill="rgb(255,255,255)"/>
<rect x="397.13" y="400.58" width="24.52" height="6.70" fill="rgb(255,255,255)"/>
<rect x="394.90" y="397.23" width="2.23" height="13.40" fill="rgb(255,255,255)"/>
<rect x="495.20" y="330.23" width="6.69" height="13.40" fill="rgb(255,255,255)"/>
<rect x="521.95" y="367.08" width="2.23" height="6.70" fill="rgb(255,255,255)"/>
</g>
<g fill="none" stroke="#000" stroke-width="2.2" stroke-linejoin="round" stroke-linecap="round">
<path d="M151.3 49.5 L154.3 52.5 L156.8 55.5 L155.8 58.8 L157.5 62.5 L160.1 64.5 L161.6 70.0 L163.1 77.5 L164.1 85.1 L162.6 92.6 L160.6 98.8 L161.3 102.6 L165.1 105.1 L168.8 106.1 L171.8 105.6 L173.8 102.6 L177.1 98.8 L180.6 95.8 L183.1 92.6 L184.1 90.6 L186.3 91.1 L188.8 93.8 L190.8 98.8 L192.1 106.3 L193.1 115.1 L194.3 122.6 L195.8 130.1 L197.6 136.4 L199.6 142.6 L200.6 148.2 L199.3 152.7 L200.1 157.7 L199.1 160.7 L201.1 165.2 L200.6 170.2 L198.8 175.2 L198.3 181.5 L197.6 187.7 L196.3 194.0 L195.8 200.2 L197.6 205.2 L199.6 209.0"/>
<path d="M213.1 207.7 L211.4 201.5 L210.1 195.2 L206.4 191.5 L205.1 185.2 L204.6 179.0 L205.9 172.7 L207.6 167.7 L209.4 161.4 L210.6 155.2 L211.6 147.7 L212.1 141.4 L213.9 137.6 L216.4 136.4 L219.6 138.1 L220.1 141.4 L220.1 145.9 L223.9 146.4 L227.6 147.2 L230.1 149.7 L233.1 152.7 L235.6 156.4 L237.6 160.7 L239.6 166.4 L241.9 170.2 L244.4 173.9 L247.2 175.2 L250.2 175.2 L251.4 179.0 L254.4 181.5 L256.4 182.2 L255.9 187.7 L255.2 194.0 L256.4 200.2 L259.7 197.2 L263.2 192.7 L267.7 190.2 L270.2 187.7 L271.4 184.0 L271.7 177.7 L275.7 176.9 L280.2 173.9 L285.2 170.2 L290.2 165.9 L293.2 162.7 L294.5 155.2 L295.2 145.2 L295.2 135.1 L294.0 125.1 L292.7 116.4 L291.0 110.6 L287.7 103.8 L284.0 97.6 L280.2 91.3 L276.4 85.1 L272.7 80.1 L269.4 75.0 L268.2 71.3 L265.2 67.5 L262.7 62.5 L263.2 57.5 L264.4 52.5 L265.7 49.5"/>
<path d="M300.7 49.5 L296.5 51.3 L292.7 54.5 L290.2 58.0 L289.7 63.8 L290.7 68.8 L294.0 71.8 L298.2 72.0 L302.2 70.0 L305.2 66.3 L306.5 61.3 L308.2 56.3 L309.7 52.0 L309.5 49.5"/>
<path d="M396.6 68.8 L400.3 67.5 L403.6 70.0 L407.8 71.3 L411.6 69.3 L410.8 75.0 L411.1 82.6 L412.8 88.8 L411.6 93.8 L409.1 98.8 L406.1 105.1 L404.1 111.3 L404.6 117.6 L406.1 123.9 L407.1 130.1 L410.3 128.9 L414.1 128.4 L417.8 127.1 L421.6 128.9 L425.4 132.1 L423.6 135.6 L425.4 140.1 L427.1 144.4 L424.1 143.9 L421.1 141.4 L419.6 136.4 L418.6 132.6 L415.3 131.4 L412.8 132.6 L413.6 137.1 L414.1 141.4 L411.6 138.9 L409.8 135.1 L407.8 132.1 L404.6 131.4 L401.6 133.9 L398.6 132.6 L397.1 128.9 L398.6 124.6 L397.8 120.9 L395.3 120.1 L393.6 122.6 L392.1 118.9 L391.1 112.6 L389.8 106.3 L389.1 100.6 L392.1 99.6 L393.6 93.8 L394.6 87.6 L393.6 81.3 L394.6 75.0 L396.1 70.0Z"/>
<path d="M395.3 136.4 L399.1 136.9 L402.1 138.9 L404.6 142.6 L405.3 147.7 L403.6 152.2 L401.6 153.9 L399.8 150.2 L398.3 145.2 L396.6 141.4Z"/>
<path d="M408.6 158.2 L412.8 158.9 L414.1 162.7 L417.8 162.2 L418.6 167.2 L420.4 171.4 L422.9 172.7 L423.6 176.4 L425.4 175.2 L424.9 169.4 L427.1 168.9 L427.1 175.2 L426.6 181.5 L429.1 182.2 L430.4 187.7 L428.6 189.7 L425.4 188.2 L424.1 185.2 L421.6 186.5 L419.6 190.2 L418.6 195.2 L416.6 196.5 L414.1 192.7 L412.8 187.7 L414.1 182.7 L415.3 177.7 L412.8 175.2 L410.3 176.4 L408.6 173.9 L409.6 168.9 L409.1 162.7Z"/>
<path d="M430.4 150.2 L434.1 149.7 L437.9 148.9 L439.1 153.9 L440.4 160.2 L441.1 167.7 L437.9 168.9 L436.1 172.7 L436.6 179.0 L434.6 181.5 L432.9 177.7 L433.6 172.7 L431.6 171.4 L429.6 172.7 L429.1 167.7 L430.4 163.9 L432.1 162.7 L432.9 157.7 L431.1 155.2Z"/>
<path d="M386.1 166.4 L387.3 170.2 L387.8 175.2 L385.3 180.2 L381.6 186.5 L377.8 192.7 L372.8 199.0 L368.5 203.2 L366.0 204.0 L367.0 200.2 L370.3 195.2 L374.0 189.7 L377.8 184.0 L381.1 177.7 L383.6 172.2 L384.8 168.2Z"/>
<path d="M199.6 209.0 L201.4 210.5 L203.9 213.8 L206.4 218.8 L208.9 223.8 L211.4 228.8 L213.1 235.0 L214.6 242.6 L216.4 250.1 L217.1 256.3 L218.9 261.3 L221.4 267.6 L223.9 273.9 L227.6 280.1 L231.4 285.1 L235.1 288.9 L238.9 292.6 L242.7 295.6 L246.4 297.6 L249.7 297.6 L250.2 293.9 L248.2 287.6 L246.4 280.1 L244.4 273.9 L243.2 266.3 L242.7 258.8 L241.9 251.3 L239.6 245.1 L235.6 238.8 L231.9 233.8 L228.9 229.5 L226.4 226.3 L222.6 222.5 L218.9 217.5 L216.4 212.5 L214.6 207.5 L213.1 205.0"/>
<path d="M171.3 241.8 L174.6 241.3 L178.1 243.8 L181.3 245.6 L185.6 245.6 L189.6 247.6 L193.1 251.3 L196.3 256.3 L200.1 261.3 L203.9 266.3 L207.6 270.6 L210.6 275.1 L213.9 280.1 L216.4 285.1 L220.1 288.1 L224.6 288.9 L227.6 291.4 L231.4 295.6 L234.6 300.1 L237.6 303.1 L239.6 307.7 L241.4 310.2 L243.2 315.2 L244.4 320.2 L243.9 325.2 L247.7 328.9 L252.2 330.2 L253.9 335.2 L256.4 340.2 L259.4 345.2 L262.7 349.0 L266.4 352.7 L268.2 356.5 L266.4 361.5 L265.2 369.0"/>
<path d="M171.3 241.8 L170.1 245.1 L171.3 250.1 L173.8 256.3 L177.1 261.3 L180.1 266.3 L183.8 270.6 L187.1 275.1 L190.1 279.6 L193.1 283.9 L196.3 288.9 L199.6 293.9 L201.4 300.1 L203.9 306.4 L206.4 312.7 L209.6 318.9 L212.6 325.2 L215.6 331.4 L218.1 337.7 L220.6 344.0 L223.9 350.2 L227.6 356.5 L231.4 362.7 L235.1 369.0"/>
<path d="M174.6 278.9 L177.1 279.6 L179.6 283.9 L178.1 284.6 L175.6 281.4Z"/>
<path d="M187.6 298.1 L190.6 297.1 L193.8 302.1 L194.6 307.2 L192.6 308.2 L189.6 303.1Z"/>
<path d="M200.6 331.4 L203.4 329.4 L205.6 333.9 L206.9 339.0 L204.6 340.2 L202.1 336.4Z"/>
<path d="M259.7 339.0 L263.9 336.9 L266.4 341.5 L267.7 347.7 L271.4 351.5 L271.9 355.7 L268.2 355.2 L265.7 350.2 L263.2 345.2 L260.7 342.2Z"/>
<path d="M280.2 351.5 L285.7 350.2 L286.5 353.2 L284.7 358.2 L281.5 358.2Z"/>
<path d="M339.0 253.8 L336.5 258.8 L332.8 265.1 L329.8 270.6 L326.5 275.1 L321.5 277.6 L316.5 278.4 L313.2 280.1 L312.7 285.1 L311.5 290.1 L310.2 293.9 L304.0 292.1 L297.7 291.4 L294.5 293.9 L292.7 298.9 L292.2 305.2 L293.2 312.7 L294.5 320.2 L296.5 326.4 L299.0 331.4 L300.7 337.7 L302.2 345.2 L304.0 352.7 L306.5 356.5 L311.5 355.2"/>
<path d="M310.9 355.4 L314.2 355.9 L316.4 354.2 L317.0 357.6 L317.5 361.7 L320.0 362.6 L323.4 360.9 L326.7 360.1 L330.1 358.4 L332.6 360.1 L335.1 361.7 L338.4 360.9 L340.9 363.4 L342.6 366.7 L343.7 370.1 L345.9 369.2 L349.2 367.1 L352.6 364.7 L355.4 362.6 L357.6 359.7 L358.4 355.9 L357.6 352.6 L358.4 348.4 L358.1 345.0 L358.4 340.9 L360.1 337.5 L362.1 334.2 L364.3 330.9 L365.9 327.5 L367.1 323.3 L367.6 320.0"/>
<path d="M339.0 252.6 L342.8 251.3 L347.8 249.6 L349.5 245.1 L352.8 238.8 L356.5 233.0 L360.3 228.0 L363.3 224.3 L366.0 226.3 L369.0 230.0 L370.3 236.3 L372.8 240.1 L376.5 242.6 L380.3 245.1 L383.6 247.6 L379.1 250.1 L375.3 252.6 L374.0 256.3 L372.8 261.3 L370.3 267.6 L368.5 273.9 L369.5 280.1 L371.5 286.4 L374.0 291.4 L377.0 296.4 L379.6 301.4 L376.5 304.6 L371.5 305.9 L369.5 310.2 L368.5 316.4 L367.0 321.4"/>
<path d="M444.8 195.0 L446.6 197.7 L447.8 201.4 L448.0 205.1 L448.9 208.7 L449.7 212.4 L449.8 215.6 L449.7 218.8 L448.9 222.0 L447.8 225.2 L446.6 228.4 L445.5 231.1 L444.8 229.8 L444.2 226.6 L443.3 223.4 L442.5 220.2 L442.1 218.3 L441.2 219.7 L440.0 222.4 L438.9 225.2 L438.0 227.0 L438.9 229.3 L440.2 231.6 L441.2 233.9 L441.8 235.7 L440.7 238.0 L439.6 240.3 L438.7 242.1 L437.8 240.7 L436.6 238.5 L435.0 237.3 L432.9 236.6 L431.1 235.3 L429.3 233.9 L427.4 232.3 L426.1 230.9 L425.6 228.4 L425.9 225.6 L426.5 222.9 L427.2 220.2 L427.0 218.3 L426.1 217.0 L424.7 214.7 L423.2 212.8 L422.0 212.8 L420.6 214.2 L419.7 216.5 L418.3 218.3 L416.8 219.0 L415.6 217.0 L414.9 214.7 L413.7 213.8 L412.6 214.7 L411.9 217.0 L411.5 219.2 L410.5 221.5 L409.6 224.3 L408.7 225.0 L408.3 222.4 L408.0 219.7 L408.3 216.5 L408.9 213.3 L410.1 210.6 L411.9 208.7 L414.2 207.6 L415.8 206.4 L416.9 204.1 L418.3 202.3 L420.1 200.9 L422.0 200.7 L423.3 201.9 L424.4 204.1 L425.2 206.4 L426.1 207.8 L427.0 206.0 L428.1 204.6 L430.2 204.0 L432.0 203.2 L432.9 200.9 L433.4 198.2 L434.3 196.8 L436.1 198.7 L437.5 198.2 L438.9 196.4 L439.8 195.0 L437.9 194.0 L439.1 187.7 L440.4 186.5 L442.9 189.0 L445.4 194.0Z"/>
<path d="M390.9 307.2 L393.4 306.7 L396.7 305.9 L397.5 302.5 L399.2 300.0 L402.5 300.9 L406.7 301.7 L410.9 302.5 L415.1 303.7 L419.2 304.7 L423.4 303.7 L427.6 302.5 L430.9 300.0 L433.4 296.7 L435.4 294.2 L437.2 295.4 L437.6 297.5 L436.7 300.0 L435.4 303.4 L433.4 306.7 L430.9 309.2 L427.6 310.9 L423.4 311.7 L419.2 310.9 L415.1 310.0 L410.9 309.7 L405.9 310.0 L400.9 309.7 L396.7 310.0 L393.4 311.7 L392.0 315.1 L391.7 319.2 L392.5 323.4 L394.2 326.7 L395.9 329.2 L396.7 332.6 L398.7 334.2 L401.7 333.4 L404.2 330.9 L407.0 328.7 L410.0 327.6 L413.4 326.7 L416.7 325.9 L419.7 325.1 L420.9 326.7 L419.2 328.1 L415.9 328.7 L412.5 329.7 L410.0 331.7 L408.0 335.1 L405.9 338.4 L404.2 342.6 L405.9 346.8 L407.5 350.9 L409.2 355.1 L410.4 359.3 L411.7 363.5 L413.1 367.6 L414.7 371.8 L416.7 376.0 L418.7 380.2 L419.2 385.2 L417.6 389.3 L415.1 391.0 L413.1 389.3 L411.4 386.0 L410.9 381.8 L409.7 378.8 L407.5 381.0 L405.9 379.3 L405.0 376.0 L404.2 371.8 L402.5 369.3 L400.9 366.0 L399.2 362.6 L398.4 358.5 L399.2 353.4 L397.5 352.6 L394.7 354.3 L393.0 357.6 L392.5 361.8 L393.4 366.8 L393.7 371.8 L393.4 376.8 L393.0 381.8 L392.5 386.8 L391.7 390.2 L389.2 391.8 L386.7 391.0 L385.9 387.7 L386.2 383.5 L386.7 378.5 L387.5 373.5 L388.0 368.5 L386.7 365.1 L384.2 362.6 L382.0 363.5 L380.8 360.1 L380.3 356.0 L381.7 352.6 L383.3 348.4 L384.2 343.4 L384.7 338.4 L385.4 334.2 L386.4 330.1 L388.4 326.7 L390.9 324.2 L390.4 320.1 L389.7 315.1 L390.0 310.9Z"/>
<path d="M460.9 288.3 L459.3 290.8 L457.6 294.2 L456.4 298.4 L455.9 302.5 L457.6 305.9 L459.3 308.4 L458.4 311.7 L458.1 315.9 L459.3 320.1 L460.9 323.4 L463.1 326.7 L465.4 328.7 L464.3 325.9 L462.6 322.6 L461.4 319.2 L460.9 315.9 L461.4 312.5 L462.6 310.0 L464.3 309.2 L465.9 310.0 L466.4 306.7 L465.9 303.4 L467.6 301.7 L468.1 298.4 L467.6 295.9 L465.9 297.5 L464.8 300.9 L463.1 299.2 L462.1 295.9 L461.8 291.7Z"/>
<path d="M430.4 340.1 L434.2 338.9 L438.4 340.9 L435.9 343.1 L431.4 343.1Z"/>
<path d="M455.9 338.4 L459.3 334.7 L463.4 339.3Z"/>
<path d="M482.6 318.4 L485.1 316.7 L488.8 318.1 L490.1 320.4 L487.6 322.1 L484.3 321.4Z"/>
<path d="M444.3 360.1 L446.8 358.1 L450.1 357.6 L452.9 359.3 L454.3 362.1 L453.4 366.0 L450.9 368.1 L447.6 366.8 L445.4 364.3Z"/>
<path d="M461.4 357.6 L463.4 355.5 L467.6 354.8 L471.8 353.8 L476.0 354.3 L480.1 356.0 L483.5 357.6 L485.5 361.0 L486.8 365.1 L486.0 368.0 L483.5 366.8 L480.1 364.8 L476.0 363.5 L471.8 362.1 L468.4 361.8 L465.1 362.6 L462.6 360.5Z"/>
<path d="M487.5 331.3 L491.3 326.3 L495.0 323.0 L498.8 321.3 L502.5 322.0 L505.0 325.0 L508.8 324.5 L512.5 326.3 L515.0 330.0 L516.3 335.1 L517.0 341.3 L518.8 347.6 L521.3 353.8 L523.8 358.8 L527.6 361.3 L530.1 358.8 L532.6 353.8 L535.6 348.8 L538.8 344.6 L542.6 340.1 L546.3 337.6 L550.1 336.3 L553.8 338.8 L558.8 342.6 L565.1 345.8 L571.4 348.8 L577.6 352.6 L583.9 355.6 L590.1 358.8 L596.4 361.3 L602.7 363.8 L607.7 367.1 L612.7 371.4 L617.2 376.4 L619.7 381.4 L620.2 386.4 L623.2 390.1 L627.7 393.1 L631.4 395.1 L635.2 394.6 L638.2 397.6 L638.9 402.7 L635.7 405.2 L632.2 407.7 L633.2 412.7 L636.4 417.7 L640.2 422.7 L643.2 427.7 L645.2 434.0 L647.7 437.7 L651.5 439.0 L652.7 444.0 L656.5 446.5 L658.5 447.7"/>
<path d="M487.5 331.3 L490.5 334.6 L493.8 335.1 L494.5 338.8 L496.3 342.6 L500.0 345.1 L505.0 346.3 L509.5 345.1 L512.0 343.1 L515.0 344.6 L513.8 347.1 L508.8 350.1 L502.5 352.1 L497.0 353.8 L499.5 357.6 L503.0 361.3 L505.0 366.3 L506.3 370.1 L508.8 368.1 L512.0 364.6 L515.0 367.1 L519.5 370.1 L523.8 373.1 L528.8 376.4 L533.8 379.6 L538.8 382.1 L543.8 384.6 L548.8 387.6 L552.6 392.1 L554.3 397.6 L555.6 403.9 L557.1 410.2 L557.6 413.9 L553.8 415.2 L551.3 420.2 L549.6 425.2 L548.1 428.2 L552.6 427.7 L557.6 425.2 L562.6 423.9 L567.1 424.4 L570.1 427.7 L573.1 431.4 L576.4 435.2 L580.1 437.7 L585.1 439.0 L590.1 439.7 L594.6 437.2 L597.1 432.7 L597.6 428.2 L600.2 423.9 L603.9 419.7 L607.7 417.2 L612.2 417.7 L616.4 420.2 L620.2 422.7 L623.2 426.4 L625.2 431.4 L627.7 436.5 L630.2 441.5 L633.9 446.5 L637.7 450.2 L642.7 452.7 L647.7 454.7 L652.7 456.5 L656.5 460.2 L658.5 462.7"/>
<path d="M483.8 317.5 L487.0 316.3 L490.5 318.8 L488.8 322.0 L485.0 321.3Z"/>
<path d="M527.6 326.3 L532.6 325.0 L535.6 329.5 L533.1 332.5 L529.6 331.3Z"/>
<path d="M519.5 389.6 L521.3 393.9 L520.6 400.2 L518.8 406.4 L516.8 409.7 L515.8 405.2 L517.0 398.9 L518.0 393.1Z"/>
<path d="M492.5 412.2 L494.5 415.7 L493.0 420.2 L490.5 423.2 L489.5 419.7 L491.0 415.2Z"/>
<path d="M627.7 343.1 L631.4 342.1 L635.2 343.8 L634.7 346.3 L630.7 347.6 L627.7 345.6Z"/>
<path d="M658.5 389.6 L651.5 390.6 L646.5 390.1 L642.7 391.4 L644.7 394.6 L649.0 396.4 L652.7 398.9 L658.5 400.2"/>
<path d="M230.0 363.8 L233.8 370.0 L237.5 376.3 L242.5 382.5 L247.5 387.5 L252.5 392.0 L255.0 393.8 L257.0 391.3 L260.0 390.5 L263.0 392.5 L263.8 385.0 L264.5 375.0 L265.5 367.5 L267.0 360.0"/>
<path d="M263.0 397.6 L266.3 395.6 L271.3 396.3 L276.3 395.1 L281.3 397.1 L286.3 399.6 L288.8 403.8 L293.8 406.3 L298.8 407.1 L303.8 406.3 L307.6 402.6 L310.1 401.3 L313.9 403.8 L318.9 406.3 L323.9 408.8 L328.9 410.1 L333.9 412.1 L336.4 413.8 L331.4 414.6 L327.6 413.8 L328.9 417.6 L333.9 418.8 L339.6 418.8 L340.6 423.8 L340.1 428.9 L339.6 432.1 L335.1 430.1 L330.1 427.6 L325.1 425.6 L320.1 423.8 L315.1 422.1 L310.1 421.3 L305.1 420.6 L298.8 420.1 L292.6 419.6 L287.6 418.8 L282.6 417.1 L277.6 414.6 L272.6 412.1 L270.1 408.8 L266.3 407.6 L262.5 405.1 L261.3 401.3Z"/>
<path d="M327.1 410.1 L331.4 408.8 L336.4 408.8 L335.6 412.1 L331.4 413.1 L327.6 412.6Z"/>
<path d="M342.6 427.1 L346.4 425.6 L350.2 427.6 L351.9 430.6 L348.9 433.1 L345.6 431.4Z"/>
<path d="M356.4 428.1 L359.7 427.6 L360.7 431.4 L358.9 435.6 L355.9 435.1 L355.2 431.4Z"/>
<path d="M362.2 431.4 L366.4 430.1 L370.2 430.9 L371.4 427.6 L373.2 424.6 L376.4 425.6 L375.2 428.9 L378.9 427.6 L381.4 430.6 L379.7 433.9 L376.4 432.6 L373.9 435.1 L370.2 436.4 L366.4 438.1 L362.7 437.1 L361.4 433.9Z"/>
<path d="M388.9 430.1 L392.7 427.6 L397.7 427.1 L402.7 428.9 L406.5 431.4 L410.2 430.1 L414.0 427.6 L416.5 424.6 L417.7 426.3 L415.2 430.1 L411.5 433.1 L407.2 434.6 L402.7 435.6 L397.7 434.6 L392.7 433.9 L389.7 432.6Z"/>
<path d="M421.5 427.1 L424.0 426.3 L425.2 428.1 L423.2 429.4Z"/>
<path d="M429.0 427.1 L432.8 425.6 L435.8 427.6 L432.3 428.9Z"/>
<path d="M442.8 420.1 L446.5 418.1 L449.8 418.8 L449.8 422.1 L445.3 423.1Z"/>
<path d="M382.2 443.9 L386.4 442.1 L391.5 443.1 L395.2 446.4 L397.7 450.1 L396.5 453.1 L392.7 452.1 L388.9 448.9 L385.2 447.6Z"/>
<path d="M382.5 585.2 L388.8 584.0 L395.0 582.2 L398.8 580.2 L401.3 576.5 L403.8 571.4 L406.3 566.4 L409.5 561.4 L410.6 555.2 L410.1 550.2 L412.6 546.4 L415.1 542.7 L417.6 538.9 L418.8 542.7 L420.1 546.4 L421.8 550.2 L424.6 547.7 L423.8 542.7 L422.6 538.9 L423.1 535.1 L426.3 536.4 L429.6 534.6 L431.3 528.9 L432.6 523.9 L434.6 519.6 L436.3 515.1 L439.6 513.9 L442.6 512.6 L445.1 510.1 L447.6 507.1 L450.6 504.6 L453.9 503.8 L457.1 505.6 L459.6 509.6 L462.1 513.9 L463.9 517.6 L463.4 520.6 L466.4 518.9 L470.1 516.4 L473.1 517.1 L475.6 519.6 L477.6 520.6 L478.1 516.4 L476.4 513.9 L474.6 511.4 L476.4 507.6 L478.1 503.8 L478.9 500.1 L481.9 498.8 L482.6 493.8 L483.9 489.6 L486.4 486.3 L489.6 483.8 L493.2 482.1 L496.4 482.6 L499.7 482.1 L502.7 480.1 L503.2 475.1 L501.4 471.3 L503.9 470.5 L507.2 472.5 L510.2 475.1 L513.9 477.1 L517.7 478.1 L521.4 479.6 L525.2 481.3 L528.9 482.6 L532.7 481.3 L535.2 485.1 L537.2 479.6 L540.2 481.3 L542.2 483.8 L540.7 488.8 L539.7 493.8 L535.2 495.1 L534.0 498.8 L534.7 503.8 L532.7 508.9 L531.5 513.9 L530.2 518.1 L532.2 521.4 L535.7 523.9 L537.7 527.6 L539.7 530.6 L544.0 530.6 L547.2 533.9 L550.7 537.1 L554.7 539.6 L558.2 542.2 L561.5 543.9 L563.2 547.7 L565.7 551.4 L567.7 554.7 L570.3 555.7 L574.0 553.9 L577.3 552.2 L578.3 547.7 L579.8 542.7 L581.5 536.4 L582.8 528.9 L583.5 520.1 L583.3 511.4 L582.8 502.6 L583.3 493.8 L584.0 486.3 L585.3 480.1 L585.8 472.5 L587.3 467.0 L589.0 463.8"/>
<path d="M480.6 471.3 L483.9 469.5 L487.6 470.5 L491.4 468.8 L493.2 472.0 L490.2 475.1 L487.1 477.6 L483.9 475.1 L481.4 474.6Z"/>
<path d="M421.8 453.8 L423.8 447.5 L426.3 443.0 L429.6 438.7 L433.8 434.5 L440.1 430.5 L447.6 426.2 L452.6 424.5 L453.9 427.5 L448.8 430.5 L443.1 434.5 L437.6 438.7 L432.6 443.0 L428.1 448.8 L425.1 452.5Z"/>
<path d="M589.0 463.7 L591.1 462.4 L593.2 463.7 L593.7 468.9 L595.0 475.3 L596.8 481.8 L598.9 488.3 L600.2 493.5 L600.7 500.0 L602.0 506.4 L604.1 509.8 L607.2 510.3 L609.8 509.0 L611.9 511.6 L614.4 515.0 L616.5 518.1 L617.0 524.6 L617.8 531.1 L619.1 538.8 L620.9 544.0 L622.7 549.2 L623.5 555.7 L623.0 562.2 L624.8 566.0 L626.1 571.2 L629.5 573.8 L633.9 575.6 L637.0 577.7 L639.1 581.6 L641.2 585.0"/>
</g>
<path fill="#000" stroke="#000" stroke-width="1.6" stroke-linejoin="round" d="M149.5 136.1 L148.5 140.1 L150.3 140.6 L151.0 137.1Z"/><path fill="#000" stroke="#000" stroke-width="1.6" stroke-linejoin="round" d="M148.3 143.1 L147.0 150.2 L145.8 156.4 L144.5 159.7 L146.0 162.2 L147.8 158.2 L149.3 151.4 L150.3 144.6Z"/><path fill="none" stroke="#000" stroke-width="2" stroke-dasharray="8.3 7.6" d="M123.5 214.6 L195 215.1 L235.7 216.4 L243.2 217.6 L268.3 217.6 L273.4 219.4 L338.8 220.6 L364 220 L389 218.8 L414 217.5 L439 216.8 L457.6 216.4 L474 216 L480.2 213.9 L505 213.8 L512.9 213.1 L601 213.1 L606 214.6 L656.2 217.6 L658.5 217.7"/>
<g stroke="#262626" stroke-width="1" fill="none" shape-rendering="crispEdges">
<rect x="123.5" y="49.5" width="535.0" height="536.0"/>
<line x1="212.5" y1="585.5" x2="212.5" y2="580.0"/>
<line x1="212.5" y1="49.5" x2="212.5" y2="55.0"/>
<line x1="301.5" y1="585.5" x2="301.5" y2="580.0"/>
<line x1="301.5" y1="49.5" x2="301.5" y2="55.0"/>
<line x1="390.5" y1="585.5" x2="390.5" y2="580.0"/>
<line x1="390.5" y1="49.5" x2="390.5" y2="55.0"/>
<line x1="480.5" y1="585.5" x2="480.5" y2="580.0"/>
<line x1="480.5" y1="49.5" x2="480.5" y2="55.0"/>
<line x1="569.5" y1="585.5" x2="569.5" y2="580.0"/>
<line x1="569.5" y1="49.5" x2="569.5" y2="55.0"/>
<line x1="123.5" y1="518.5" x2="129.0" y2="518.5"/>
<line x1="658.5" y1="518.5" x2="653.0" y2="518.5"/>
<line x1="123.5" y1="451.5" x2="129.0" y2="451.5"/>
<line x1="658.5" y1="451.5" x2="653.0" y2="451.5"/>
<line x1="123.5" y1="384.5" x2="129.0" y2="384.5"/>
<line x1="658.5" y1="384.5" x2="653.0" y2="384.5"/>
<line x1="123.5" y1="317.5" x2="129.0" y2="317.5"/>
<line x1="658.5" y1="317.5" x2="653.0" y2="317.5"/>
<line x1="123.5" y1="250.5" x2="129.0" y2="250.5"/>
<line x1="658.5" y1="250.5" x2="653.0" y2="250.5"/>
<line x1="123.5" y1="183.5" x2="129.0" y2="183.5"/>
<line x1="658.5" y1="183.5" x2="653.0" y2="183.5"/>
<line x1="123.5" y1="116.5" x2="129.0" y2="116.5"/>
<line x1="658.5" y1="116.5" x2="653.0" y2="116.5"/>
</g>
<text class="tk" x="122.5" y="615" text-anchor="middle">90</text>
<text class="tk" x="211.7" y="615" text-anchor="middle">100</text>
<text class="tk" x="300.8" y="615" text-anchor="middle">110</text>
<text class="tk" x="390.0" y="615" text-anchor="middle">120</text>
<text class="tk" x="479.2" y="615" text-anchor="middle">130</text>
<text class="tk" x="568.3" y="615" text-anchor="middle">140</text>
<text class="tk" x="657.5" y="615" text-anchor="middle">150</text>
<text class="tk" x="112.6" y="593.7" text-anchor="end">-20</text>
<text class="tk" x="112.6" y="526.7" text-anchor="end">-15</text>
<text class="tk" x="112.6" y="459.7" text-anchor="end">-10</text>
<text class="tk" x="112.6" y="392.7" text-anchor="end">-5</text>
<text class="tk" x="112.6" y="325.7" text-anchor="end">0</text>
<text class="tk" x="112.6" y="258.7" text-anchor="end">5</text>
<text class="tk" x="112.6" y="191.7" text-anchor="end">10</text>
<text class="tk" x="112.6" y="124.7" text-anchor="end">15</text>
<text class="tk" x="112.6" y="57.7" text-anchor="end">20</text>
<text class="al" x="389.5" y="645.2" text-anchor="middle">Geographic Lon. (<tspan font-size="27" dx="1.3" dy="4.3">°</tspan><tspan dx="0.5" dy="-4.3">)</tspan></text>
<text class="al" transform="translate(71,317.6) rotate(-90)" text-anchor="middle">Geographic Lat. (<tspan font-size="27" dx="1.3" dy="4.3">°</tspan><tspan dx="0.5" dy="-4.3">)</tspan></text>
<text class="tt" x="390" y="39" text-anchor="middle">25-May-2025; 00:00 UT</text>
<g shape-rendering="crispEdges">
<rect x="697.5" y="577.12" width="42.0" height="8.88" fill="#00008f"/>
<rect x="697.5" y="568.75" width="42.0" height="8.88" fill="#00009f"/>
<rect x="697.5" y="560.38" width="42.0" height="8.88" fill="#0000af"/>
<rect x="697.5" y="552.00" width="42.0" height="8.88" fill="#0000bf"/>
<rect x="697.5" y="543.62" width="42.0" height="8.88" fill="#0000cf"/>
<rect x="697.5" y="535.25" width="42.0" height="8.88" fill="#0000df"/>
<rect x="697.5" y="526.88" width="42.0" height="8.88" fill="#0000ef"/>
<rect x="697.5" y="518.50" width="42.0" height="8.88" fill="#0000ff"/>
<rect x="697.5" y="510.12" width="42.0" height="8.88" fill="#0010ff"/>
<rect x="697.5" y="501.75" width="42.0" height="8.88" fill="#0020ff"/>
<rect x="697.5" y="493.38" width="42.0" height="8.88" fill="#0030ff"/>
<rect x="697.5" y="485.00" width="42.0" height="8.88" fill="#0040ff"/>
<rect x="697.5" y="476.62" width="42.0" height="8.88" fill="#0050ff"/>
<rect x="697.5" y="468.25" width="42.0" height="8.88" fill="#0060ff"/>
<rect x="697.5" y="459.88" width="42.0" height="8.88" fill="#0070ff"/>
<rect x="697.5" y="451.50" width="42.0" height="8.88" fill="#0080ff"/>
<rect x="697.5" y="443.12" width="42.0" height="8.88" fill="#008fff"/>
<rect x="697.5" y="434.75" width="42.0" height="8.88" fill="#009fff"/>
<rect x="697.5" y="426.38" width="42.0" height="8.88" fill="#00afff"/>
<rect x="697.5" y="418.00" width="42.0" height="8.88" fill="#00bfff"/>
<rect x="697.5" y="409.62" width="42.0" height="8.88" fill="#00cfff"/>
<rect x="697.5" y="401.25" width="42.0" height="8.88" fill="#00dfff"/>
<rect x="697.5" y="392.88" width="42.0" height="8.88" fill="#00efff"/>
<rect x="697.5" y="384.50" width="42.0" height="8.88" fill="#00ffff"/>
<rect x="697.5" y="376.12" width="42.0" height="8.88" fill="#10ffef"/>
<rect x="697.5" y="367.75" width="42.0" height="8.88" fill="#20ffdf"/>
<rect x="697.5" y="359.38" width="42.0" height="8.88" fill="#30ffcf"/>
<rect x="697.5" y="351.00" width="42.0" height="8.88" fill="#40ffbf"/>
<rect x="697.5" y="342.62" width="42.0" height="8.88" fill="#50ffaf"/>
<rect x="697.5" y="334.25" width="42.0" height="8.88" fill="#60ff9f"/>
<rect x="697.5" y="325.88" width="42.0" height="8.88" fill="#70ff8f"/>
<rect x="697.5" y="317.50" width="42.0" height="8.88" fill="#80ff80"/>
<rect x="697.5" y="309.12" width="42.0" height="8.88" fill="#8fff70"/>
<rect x="697.5" y="300.75" width="42.0" height="8.88" fill="#9fff60"/>
<rect x="697.5" y="292.38" width="42.0" height="8.88" fill="#afff50"/>
<rect x="697.5" y="284.00" width="42.0" height="8.88" fill="#bfff40"/>
<rect x="697.5" y="275.62" width="42.0" height="8.88" fill="#cfff30"/>
<rect x="697.5" y="267.25" width="42.0" height="8.88" fill="#dfff20"/>
<rect x="697.5" y="258.88" width="42.0" height="8.88" fill="#efff10"/>
<rect x="697.5" y="250.50" width="42.0" height="8.88" fill="#ffff00"/>
<rect x="697.5" y="242.12" width="42.0" height="8.88" fill="#ffef00"/>
<rect x="697.5" y="233.75" width="42.0" height="8.88" fill="#ffdf00"/>
<rect x="697.5" y="225.38" width="42.0" height="8.88" fill="#ffcf00"/>
<rect x="697.5" y="217.00" width="42.0" height="8.88" fill="#ffbf00"/>
<rect x="697.5" y="208.62" width="42.0" height="8.88" fill="#ffaf00"/>
<rect x="697.5" y="200.25" width="42.0" height="8.88" fill="#ff9f00"/>
<rect x="697.5" y="191.88" width="42.0" height="8.88" fill="#ff8f00"/>
<rect x="697.5" y="183.50" width="42.0" height="8.88" fill="#ff8000"/>
<rect x="697.5" y="175.12" width="42.0" height="8.88" fill="#ff7000"/>
<rect x="697.5" y="166.75" width="42.0" height="8.88" fill="#ff6000"/>
<rect x="697.5" y="158.38" width="42.0" height="8.88" fill="#ff5000"/>
<rect x="697.5" y="150.00" width="42.0" height="8.88" fill="#ff4000"/>
<rect x="697.5" y="141.62" width="42.0" height="8.88" fill="#ff3000"/>
<rect x="697.5" y="133.25" width="42.0" height="8.88" fill="#ff2000"/>
<rect x="697.5" y="124.88" width="42.0" height="8.88" fill="#ff1000"/>
<rect x="697.5" y="116.50" width="42.0" height="8.88" fill="#ff0000"/>
<rect x="697.5" y="108.12" width="42.0" height="8.88" fill="#ef0000"/>
<rect x="697.5" y="99.75" width="42.0" height="8.88" fill="#df0000"/>
<rect x="697.5" y="91.38" width="42.0" height="8.88" fill="#cf0000"/>
<rect x="697.5" y="83.00" width="42.0" height="8.88" fill="#bf0000"/>
<rect x="697.5" y="74.62" width="42.0" height="8.88" fill="#af0000"/>
<rect x="697.5" y="66.25" width="42.0" height="8.88" fill="#9f0000"/>
<rect x="697.5" y="57.88" width="42.0" height="8.88" fill="#8f0000"/>
<rect x="697.5" y="49.50" width="42.0" height="8.88" fill="#800000"/>
</g>
<g stroke="#262626" stroke-width="1" fill="none" shape-rendering="crispEdges">
<rect x="697.5" y="49.5" width="42.0" height="536.0"/>
<line x1="734.0" y1="531.9" x2="739.5" y2="531.9"/>
<line x1="734.0" y1="478.3" x2="739.5" y2="478.3"/>
<line x1="734.0" y1="424.7" x2="739.5" y2="424.7"/>
<line x1="734.0" y1="371.1" x2="739.5" y2="371.1"/>
<line x1="734.0" y1="317.5" x2="739.5" y2="317.5"/>
<line x1="734.0" y1="263.9" x2="739.5" y2="263.9"/>
<line x1="734.0" y1="210.3" x2="739.5" y2="210.3"/>
<line x1="734.0" y1="156.7" x2="739.5" y2="156.7"/>
<line x1="734.0" y1="103.1" x2="739.5" y2="103.1"/>
</g>
<text class="ck" x="747.2" y="592.9">0</text>
<text class="ck" x="747.2" y="539.3">10</text>
<text class="ck" x="747.2" y="485.7">20</text>
<text class="ck" x="747.2" y="432.1">30</text>
<text class="ck" x="747.2" y="378.5">40</text>
<text class="ck" x="747.2" y="324.9">50</text>
<text class="ck" x="747.2" y="271.3">60</text>
<text class="ck" x="747.2" y="217.7">70</text>
<text class="ck" x="747.2" y="164.1">80</text>
<text class="ck" x="747.2" y="110.5">90</text>
<text class="ck" x="747.2" y="56.9">100</text>
<text class="cl" transform="translate(805.4,318.3) rotate(-90)" text-anchor="middle">Total Electron Content (TECU)</text>
</svg></body></html>
